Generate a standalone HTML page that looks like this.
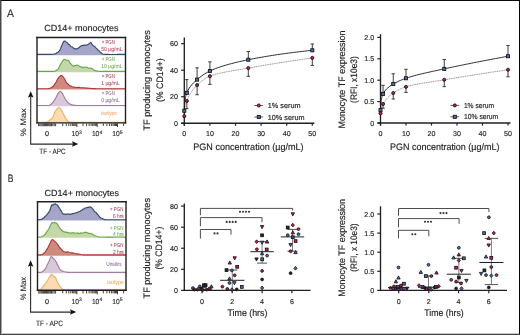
<!DOCTYPE html>
<html><head><meta charset="utf-8"><style>
html,body{margin:0;padding:0;background:#fff;overflow:hidden;width:520px;height:335px;}
svg{display:block;font-family:"Liberation Sans", sans-serif;will-change:transform;text-rendering:geometricPrecision;}
</style></head><body>
<svg width="520" height="335" viewBox="0 0 520 335">
<rect x="0" y="0" width="520" height="335" fill="#fff"/>
<text x="7.10" y="17.00" font-size="10.8" fill="#231f20" stroke="#231f20" stroke-width="0.1" textLength="6.90" lengthAdjust="spacingAndGlyphs" >A</text>
<text x="44.20" y="31.10" font-size="8.9" fill="#231f20" stroke="#231f20" stroke-width="0.16" textLength="74.40" lengthAdjust="spacingAndGlyphs" >CD14+ monocytes</text>
<path d="M37.00,54.40 L37.60,54.40 L38.37,54.41 L39.28,54.41 L40.31,54.42 L41.42,54.42 L42.59,54.43 L43.80,54.43 L45.00,54.44 L46.17,54.44 L47.29,54.43 L48.32,54.43 L49.23,54.42 L50.00,54.40 L51.83,54.35 L53.04,54.28 L53.96,54.15 L54.90,53.90 L55.90,53.52 L56.81,52.78 L57.64,52.62 L58.40,51.76 L59.06,51.23 L59.62,50.62 L60.15,49.47 L60.70,48.40 L61.09,47.26 L61.47,46.34 L61.86,45.37 L62.25,44.40 L62.63,43.52 L63.00,42.53 L64.07,41.19 L65.10,41.07 L66.04,41.91 L67.00,42.43 L67.71,43.27 L68.47,44.36 L69.30,44.61 L70.20,45.75 L71.17,46.74 L72.20,47.04 L73.37,47.96 L74.60,48.86 L75.70,48.78 L76.85,48.88 L78.00,48.35 L78.79,47.77 L79.68,46.97 L80.60,46.13 L81.50,45.79 L82.64,45.40 L83.76,45.34 L84.90,45.12 L86.10,45.15 L87.32,44.83 L88.40,44.19 L89.66,43.29 L90.70,42.47 L91.51,43.47 L92.40,44.81 L93.26,45.72 L94.24,46.27 L95.30,47.18 L96.14,48.14 L97.02,48.86 L97.92,50.08 L98.80,50.51 L99.65,51.66 L100.50,52.27 L101.35,52.99 L102.20,53.60 L102.76,54.05 L103.32,54.27 L105.70,54.40 L106.38,54.42 L107.20,54.43 L108.12,54.44 L109.15,54.45 L110.25,54.46 L111.42,54.46 L112.65,54.46 L113.90,54.46 L115.18,54.45 L116.46,54.45 L117.72,54.44 L118.96,54.43 L120.15,54.43 L121.29,54.42 L122.35,54.41 L123.31,54.41 L124.17,54.40 L124.90,54.40 L125.50,54.40 L125.50,55.20 L37.00,55.20 Z" fill="#a5a6c7" stroke="none"/>
<path d="M37.00,54.40 L37.60,54.40 L38.37,54.41 L39.28,54.41 L40.31,54.42 L41.42,54.42 L42.59,54.43 L43.80,54.43 L45.00,54.44 L46.17,54.44 L47.29,54.43 L48.32,54.43 L49.23,54.42 L50.00,54.40 L51.83,54.35 L53.04,54.28 L53.96,54.15 L54.90,53.90 L55.90,53.52 L56.81,52.78 L57.64,52.62 L58.40,51.76 L59.06,51.23 L59.62,50.62 L60.15,49.47 L60.70,48.40 L61.09,47.26 L61.47,46.34 L61.86,45.37 L62.25,44.40 L62.63,43.52 L63.00,42.53 L64.07,41.19 L65.10,41.07 L66.04,41.91 L67.00,42.43 L67.71,43.27 L68.47,44.36 L69.30,44.61 L70.20,45.75 L71.17,46.74 L72.20,47.04 L73.37,47.96 L74.60,48.86 L75.70,48.78 L76.85,48.88 L78.00,48.35 L78.79,47.77 L79.68,46.97 L80.60,46.13 L81.50,45.79 L82.64,45.40 L83.76,45.34 L84.90,45.12 L86.10,45.15 L87.32,44.83 L88.40,44.19 L89.66,43.29 L90.70,42.47 L91.51,43.47 L92.40,44.81 L93.26,45.72 L94.24,46.27 L95.30,47.18 L96.14,48.14 L97.02,48.86 L97.92,50.08 L98.80,50.51 L99.65,51.66 L100.50,52.27 L101.35,52.99 L102.20,53.60 L102.76,54.05 L103.32,54.27 L105.70,54.40 L106.38,54.42 L107.20,54.43 L108.12,54.44 L109.15,54.45 L110.25,54.46 L111.42,54.46 L112.65,54.46 L113.90,54.46 L115.18,54.45 L116.46,54.45 L117.72,54.44 L118.96,54.43 L120.15,54.43 L121.29,54.42 L122.35,54.41 L123.31,54.41 L124.17,54.40 L124.90,54.40 L125.50,54.40" fill="none" stroke="#33496e" stroke-width="1.15" stroke-linejoin="round"/>
<path d="M37.00,71.40 L37.59,71.40 L38.34,71.40 L39.23,71.41 L40.23,71.41 L41.32,71.42 L42.48,71.42 L43.68,71.43 L44.91,71.43 L46.12,71.44 L47.31,71.44 L48.45,71.44 L49.51,71.43 L50.47,71.43 L51.31,71.41 L52.00,71.40 L53.97,71.35 L54.64,71.25 L55.30,70.90 L56.13,70.40 L56.97,70.09 L57.78,69.42 L58.50,68.53 L59.10,67.37 L59.62,66.17 L60.10,65.01 L60.60,64.44 L61.12,63.44 L61.65,62.55 L62.18,61.57 L62.70,60.85 L63.78,59.64 L64.80,59.23 L66.40,60.29 L68.20,60.41 L68.82,60.92 L69.45,61.75 L70.10,63.33 L70.76,63.73 L71.45,64.62 L72.20,65.21 L73.55,66.38 L74.90,65.57 L75.99,65.46 L77.00,65.01 L78.02,65.41 L79.10,66.00 L80.39,66.92 L81.70,66.86 L82.80,67.76 L83.90,67.08 L85.17,67.20 L86.50,67.09 L87.85,67.73 L89.20,68.29 L90.51,67.97 L91.80,68.44 L92.64,68.84 L93.49,70.00 L94.40,70.42 L95.38,70.66 L96.43,70.91 L97.60,71.10 L98.15,71.22 L98.47,71.30 L99.44,71.36 L101.90,71.40 L102.56,71.41 L103.33,71.41 L104.20,71.41 L105.15,71.42 L106.18,71.42 L107.27,71.42 L108.42,71.42 L109.61,71.42 L110.84,71.42 L112.08,71.42 L113.34,71.42 L114.60,71.42 L115.85,71.42 L117.08,71.41 L118.28,71.41 L119.43,71.41 L120.54,71.41 L121.58,71.41 L122.55,71.40 L123.44,71.40 L124.24,71.40 L124.93,71.40 L125.50,71.40 L125.50,72.20 L37.00,72.20 Z" fill="#c5d7a9" stroke="none"/>
<path d="M37.00,71.40 L37.59,71.40 L38.34,71.40 L39.23,71.41 L40.23,71.41 L41.32,71.42 L42.48,71.42 L43.68,71.43 L44.91,71.43 L46.12,71.44 L47.31,71.44 L48.45,71.44 L49.51,71.43 L50.47,71.43 L51.31,71.41 L52.00,71.40 L53.97,71.35 L54.64,71.25 L55.30,70.90 L56.13,70.40 L56.97,70.09 L57.78,69.42 L58.50,68.53 L59.10,67.37 L59.62,66.17 L60.10,65.01 L60.60,64.44 L61.12,63.44 L61.65,62.55 L62.18,61.57 L62.70,60.85 L63.78,59.64 L64.80,59.23 L66.40,60.29 L68.20,60.41 L68.82,60.92 L69.45,61.75 L70.10,63.33 L70.76,63.73 L71.45,64.62 L72.20,65.21 L73.55,66.38 L74.90,65.57 L75.99,65.46 L77.00,65.01 L78.02,65.41 L79.10,66.00 L80.39,66.92 L81.70,66.86 L82.80,67.76 L83.90,67.08 L85.17,67.20 L86.50,67.09 L87.85,67.73 L89.20,68.29 L90.51,67.97 L91.80,68.44 L92.64,68.84 L93.49,70.00 L94.40,70.42 L95.38,70.66 L96.43,70.91 L97.60,71.10 L98.15,71.22 L98.47,71.30 L99.44,71.36 L101.90,71.40 L102.56,71.41 L103.33,71.41 L104.20,71.41 L105.15,71.42 L106.18,71.42 L107.27,71.42 L108.42,71.42 L109.61,71.42 L110.84,71.42 L112.08,71.42 L113.34,71.42 L114.60,71.42 L115.85,71.42 L117.08,71.41 L118.28,71.41 L119.43,71.41 L120.54,71.41 L121.58,71.41 L122.55,71.40 L123.44,71.40 L124.24,71.40 L124.93,71.40 L125.50,71.40" fill="none" stroke="#68a84b" stroke-width="1.15" stroke-linejoin="round"/>
<path d="M37.00,88.70 L37.64,88.70 L38.53,88.70 L39.58,88.71 L40.74,88.71 L41.93,88.71 L43.08,88.71 L44.13,88.71 L45.00,88.70 L46.33,88.70 L47.38,88.71 L48.29,88.66 L49.20,88.50 L50.44,88.12 L51.60,87.38 L52.70,86.80 L53.47,86.03 L54.19,84.97 L54.89,83.95 L55.60,82.89 L56.18,81.97 L56.77,80.78 L57.36,79.57 L57.94,78.61 L58.50,77.67 L59.39,76.81 L60.24,76.02 L61.10,75.32 L61.98,75.84 L62.86,76.53 L63.70,77.66 L64.28,78.51 L64.84,79.61 L65.40,80.85 L66.00,81.75 L66.65,82.72 L67.32,83.52 L68.04,84.06 L68.80,84.88 L69.60,85.42 L70.44,86.04 L71.33,86.19 L72.30,86.71 L73.32,87.13 L74.39,87.15 L75.56,87.33 L76.90,87.49 L77.92,87.26 L79.03,87.37 L80.20,87.70 L81.41,87.79 L82.62,87.71 L83.80,87.80 L84.80,87.88 L85.82,87.97 L86.83,88.07 L87.85,88.16 L88.86,88.25 L89.84,88.33 L90.80,88.40 L91.62,88.47 L92.10,88.53 L92.56,88.59 L93.31,88.63 L94.69,88.67 L97.00,88.70 L97.67,88.70 L98.42,88.71 L99.25,88.71 L100.15,88.72 L101.12,88.72 L102.15,88.72 L103.22,88.72 L104.35,88.72 L105.51,88.72 L106.70,88.72 L107.92,88.72 L109.15,88.72 L110.39,88.72 L111.64,88.72 L112.88,88.72 L114.11,88.72 L115.32,88.71 L116.51,88.71 L117.67,88.71 L118.78,88.71 L119.86,88.71 L120.88,88.71 L121.84,88.70 L122.73,88.70 L123.55,88.70 L124.29,88.70 L124.94,88.70 L125.50,88.70 L125.50,89.50 L37.00,89.50 Z" fill="#cf8a7e" stroke="none"/>
<path d="M37.00,88.70 L37.64,88.70 L38.53,88.70 L39.58,88.71 L40.74,88.71 L41.93,88.71 L43.08,88.71 L44.13,88.71 L45.00,88.70 L46.33,88.70 L47.38,88.71 L48.29,88.66 L49.20,88.50 L50.44,88.12 L51.60,87.38 L52.70,86.80 L53.47,86.03 L54.19,84.97 L54.89,83.95 L55.60,82.89 L56.18,81.97 L56.77,80.78 L57.36,79.57 L57.94,78.61 L58.50,77.67 L59.39,76.81 L60.24,76.02 L61.10,75.32 L61.98,75.84 L62.86,76.53 L63.70,77.66 L64.28,78.51 L64.84,79.61 L65.40,80.85 L66.00,81.75 L66.65,82.72 L67.32,83.52 L68.04,84.06 L68.80,84.88 L69.60,85.42 L70.44,86.04 L71.33,86.19 L72.30,86.71 L73.32,87.13 L74.39,87.15 L75.56,87.33 L76.90,87.49 L77.92,87.26 L79.03,87.37 L80.20,87.70 L81.41,87.79 L82.62,87.71 L83.80,87.80 L84.80,87.88 L85.82,87.97 L86.83,88.07 L87.85,88.16 L88.86,88.25 L89.84,88.33 L90.80,88.40 L91.62,88.47 L92.10,88.53 L92.56,88.59 L93.31,88.63 L94.69,88.67 L97.00,88.70 L97.67,88.70 L98.42,88.71 L99.25,88.71 L100.15,88.72 L101.12,88.72 L102.15,88.72 L103.22,88.72 L104.35,88.72 L105.51,88.72 L106.70,88.72 L107.92,88.72 L109.15,88.72 L110.39,88.72 L111.64,88.72 L112.88,88.72 L114.11,88.72 L115.32,88.71 L116.51,88.71 L117.67,88.71 L118.78,88.71 L119.86,88.71 L120.88,88.71 L121.84,88.70 L122.73,88.70 L123.55,88.70 L124.29,88.70 L124.94,88.70 L125.50,88.70" fill="none" stroke="#b0363d" stroke-width="1.15" stroke-linejoin="round"/>
<path d="M37.00,105.50 C38.50,105.50 43.87,105.55 46.00,105.50 C48.13,105.45 48.68,105.68 49.80,105.20 C50.92,104.72 51.73,103.77 52.70,102.60 C53.67,101.43 54.73,99.70 55.60,98.20 C56.47,96.70 57.13,94.75 57.90,93.60 C58.67,92.45 59.43,91.30 60.20,91.30 C60.97,91.30 61.73,92.45 62.50,93.60 C63.27,94.75 63.93,96.75 64.80,98.20 C65.67,99.65 66.63,101.23 67.70,102.30 C68.77,103.37 69.85,104.08 71.20,104.60 C72.55,105.12 74.33,105.25 75.80,105.40 C77.27,105.55 71.72,105.48 80.00,105.50 C88.28,105.52 117.92,105.50 125.50,105.50 L125.50,106.30 L37.00,106.30 Z" fill="#d8c8da" stroke="none"/>
<path d="M37.00,105.50 C38.50,105.50 43.87,105.55 46.00,105.50 C48.13,105.45 48.68,105.68 49.80,105.20 C50.92,104.72 51.73,103.77 52.70,102.60 C53.67,101.43 54.73,99.70 55.60,98.20 C56.47,96.70 57.13,94.75 57.90,93.60 C58.67,92.45 59.43,91.30 60.20,91.30 C60.97,91.30 61.73,92.45 62.50,93.60 C63.27,94.75 63.93,96.75 64.80,98.20 C65.67,99.65 66.63,101.23 67.70,102.30 C68.77,103.37 69.85,104.08 71.20,104.60 C72.55,105.12 74.33,105.25 75.80,105.40 C77.27,105.55 71.72,105.48 80.00,105.50 C88.28,105.52 117.92,105.50 125.50,105.50" fill="none" stroke="#9c809c" stroke-width="1.15" stroke-linejoin="round"/>
<path d="M37.00,122.30 L37.66,122.30 L38.59,122.31 L39.69,122.32 L40.88,122.33 L42.05,122.33 L43.12,122.32 L44.00,122.30 L45.45,122.27 L46.51,122.19 L47.50,121.90 L48.53,121.14 L49.50,120.23 L50.40,119.59 L51.21,119.11 L51.96,118.43 L52.70,117.49 L53.07,116.54 L53.41,115.80 L53.76,114.95 L54.12,113.86 L54.53,112.79 L55.00,111.64 L55.68,110.93 L56.47,109.88 L57.30,108.67 L58.10,108.14 L58.80,107.51 L59.73,107.75 L60.52,108.75 L61.30,109.86 L61.79,110.90 L62.27,111.87 L62.75,112.69 L63.23,113.69 L63.70,114.54 L64.28,115.61 L64.86,116.90 L65.43,117.83 L66.00,118.52 L66.79,119.82 L67.58,120.80 L68.30,121.60 L70.00,122.30 L70.55,122.31 L71.15,122.31 L71.79,122.32 L72.49,122.32 L73.23,122.33 L74.02,122.33 L74.85,122.33 L75.72,122.34 L76.62,122.34 L77.57,122.34 L78.54,122.34 L79.55,122.35 L80.59,122.35 L81.66,122.35 L82.76,122.35 L83.88,122.35 L85.02,122.35 L86.18,122.35 L87.36,122.35 L88.56,122.35 L89.77,122.35 L90.99,122.35 L92.22,122.35 L93.47,122.35 L94.72,122.35 L95.97,122.35 L97.23,122.34 L98.48,122.34 L99.74,122.34 L100.99,122.34 L102.24,122.34 L103.48,122.34 L104.71,122.33 L105.93,122.33 L107.14,122.33 L108.33,122.33 L109.51,122.33 L110.66,122.32 L111.80,122.32 L112.91,122.32 L114.00,122.32 L115.06,122.31 L116.09,122.31 L117.09,122.31 L118.06,122.31 L118.99,122.31 L119.89,122.31 L120.75,122.30 L121.56,122.30 L122.34,122.30 L123.07,122.30 L123.75,122.30 L124.38,122.30 L124.97,122.30 L125.50,122.30 L125.50,123.10 L37.00,123.10 Z" fill="#fadcb4" stroke="none"/>
<path d="M37.00,122.30 L37.66,122.30 L38.59,122.31 L39.69,122.32 L40.88,122.33 L42.05,122.33 L43.12,122.32 L44.00,122.30 L45.45,122.27 L46.51,122.19 L47.50,121.90 L48.53,121.14 L49.50,120.23 L50.40,119.59 L51.21,119.11 L51.96,118.43 L52.70,117.49 L53.07,116.54 L53.41,115.80 L53.76,114.95 L54.12,113.86 L54.53,112.79 L55.00,111.64 L55.68,110.93 L56.47,109.88 L57.30,108.67 L58.10,108.14 L58.80,107.51 L59.73,107.75 L60.52,108.75 L61.30,109.86 L61.79,110.90 L62.27,111.87 L62.75,112.69 L63.23,113.69 L63.70,114.54 L64.28,115.61 L64.86,116.90 L65.43,117.83 L66.00,118.52 L66.79,119.82 L67.58,120.80 L68.30,121.60 L70.00,122.30 L70.55,122.31 L71.15,122.31 L71.79,122.32 L72.49,122.32 L73.23,122.33 L74.02,122.33 L74.85,122.33 L75.72,122.34 L76.62,122.34 L77.57,122.34 L78.54,122.34 L79.55,122.35 L80.59,122.35 L81.66,122.35 L82.76,122.35 L83.88,122.35 L85.02,122.35 L86.18,122.35 L87.36,122.35 L88.56,122.35 L89.77,122.35 L90.99,122.35 L92.22,122.35 L93.47,122.35 L94.72,122.35 L95.97,122.35 L97.23,122.34 L98.48,122.34 L99.74,122.34 L100.99,122.34 L102.24,122.34 L103.48,122.34 L104.71,122.33 L105.93,122.33 L107.14,122.33 L108.33,122.33 L109.51,122.33 L110.66,122.32 L111.80,122.32 L112.91,122.32 L114.00,122.32 L115.06,122.31 L116.09,122.31 L117.09,122.31 L118.06,122.31 L118.99,122.31 L119.89,122.31 L120.75,122.30 L121.56,122.30 L122.34,122.30 L123.07,122.30 L123.75,122.30 L124.38,122.30 L124.97,122.30 L125.50,122.30" fill="none" stroke="#eeb268" stroke-width="1.15" stroke-linejoin="round"/>
<text x="101.80" y="44.30" font-size="5.8" fill="#ac3c55" stroke="#ac3c55" stroke-width="0.04" textLength="13.00" lengthAdjust="spacingAndGlyphs" >+ PGN</text>
<text x="101.20" y="50.80" font-size="5.8" fill="#ac3c55" stroke="#ac3c55" stroke-width="0.04" textLength="21.30" lengthAdjust="spacingAndGlyphs" >50 µg/mL</text>
<text x="101.80" y="61.00" font-size="5.8" fill="#6ea74e" stroke="#6ea74e" stroke-width="0.04" textLength="13.00" lengthAdjust="spacingAndGlyphs" >+ PGN</text>
<text x="101.20" y="67.50" font-size="5.8" fill="#6ea74e" stroke="#6ea74e" stroke-width="0.04" textLength="21.30" lengthAdjust="spacingAndGlyphs" >10 µg/mL</text>
<text x="101.80" y="78.00" font-size="5.8" fill="#ac3c55" stroke="#ac3c55" stroke-width="0.04" textLength="13.00" lengthAdjust="spacingAndGlyphs" >+ PGN</text>
<text x="101.20" y="84.50" font-size="5.8" fill="#ac3c55" stroke="#ac3c55" stroke-width="0.04" textLength="18.50" lengthAdjust="spacingAndGlyphs" >1 µg/mL</text>
<text x="101.80" y="95.00" font-size="5.8" fill="#86658c" stroke="#86658c" stroke-width="0.04" textLength="13.00" lengthAdjust="spacingAndGlyphs" >+ PGN</text>
<text x="101.20" y="101.50" font-size="5.8" fill="#86658c" stroke="#86658c" stroke-width="0.04" textLength="18.50" lengthAdjust="spacingAndGlyphs" >0 µg/mL</text>
<text x="101.00" y="115.20" font-size="5.9" fill="#eba55c" stroke="#eba55c" stroke-width="0.04" textLength="16.20" lengthAdjust="spacingAndGlyphs" >isotype</text>
<line x1="37.00" y1="37.50" x2="125.50" y2="37.50" stroke="#231f20" stroke-width="1.4" stroke-linecap="square"/>
<line x1="37.00" y1="37.50" x2="37.00" y2="122.90" stroke="#231f20" stroke-width="1.4" stroke-linecap="square"/>
<line x1="125.50" y1="37.50" x2="125.50" y2="122.90" stroke="#231f20" stroke-width="1.4" stroke-linecap="square"/>
<line x1="37.00" y1="122.90" x2="125.50" y2="122.90" stroke="#231f20" stroke-width="1.4" stroke-linecap="square"/>
<line x1="38.50" y1="123.40" x2="38.50" y2="126.20" stroke="#111" stroke-width="0.8" />
<line x1="39.80" y1="123.40" x2="39.80" y2="126.20" stroke="#111" stroke-width="0.8" />
<line x1="41.00" y1="123.40" x2="41.00" y2="126.20" stroke="#111" stroke-width="0.8" />
<line x1="42.20" y1="123.40" x2="42.20" y2="126.20" stroke="#111" stroke-width="0.8" />
<line x1="43.30" y1="123.40" x2="43.30" y2="126.20" stroke="#111" stroke-width="0.8" />
<line x1="44.40" y1="123.40" x2="44.40" y2="126.20" stroke="#111" stroke-width="0.8" />
<line x1="45.40" y1="123.40" x2="45.40" y2="126.20" stroke="#111" stroke-width="0.8" />
<line x1="46.40" y1="123.40" x2="46.40" y2="126.20" stroke="#111" stroke-width="0.8" />
<line x1="47.30" y1="123.40" x2="47.30" y2="126.20" stroke="#111" stroke-width="0.8" />
<line x1="48.20" y1="123.40" x2="48.20" y2="126.20" stroke="#111" stroke-width="0.8" />
<line x1="49.20" y1="123.40" x2="49.20" y2="126.20" stroke="#111" stroke-width="0.8" />
<line x1="50.30" y1="123.40" x2="50.30" y2="126.20" stroke="#111" stroke-width="0.8" />
<line x1="51.50" y1="123.40" x2="51.50" y2="126.20" stroke="#111" stroke-width="0.8" />
<line x1="52.80" y1="123.40" x2="52.80" y2="126.20" stroke="#111" stroke-width="0.8" />
<line x1="54.20" y1="123.40" x2="54.20" y2="126.20" stroke="#111" stroke-width="0.8" />
<line x1="55.60" y1="123.40" x2="55.60" y2="126.20" stroke="#111" stroke-width="0.8" />
<line x1="62.71" y1="123.40" x2="62.71" y2="126.00" stroke="#111" stroke-width="0.8" />
<line x1="66.29" y1="123.40" x2="66.29" y2="126.00" stroke="#111" stroke-width="0.8" />
<line x1="68.82" y1="123.40" x2="68.82" y2="126.00" stroke="#111" stroke-width="0.8" />
<line x1="70.79" y1="123.40" x2="70.79" y2="126.00" stroke="#111" stroke-width="0.8" />
<line x1="72.40" y1="123.40" x2="72.40" y2="126.00" stroke="#111" stroke-width="0.8" />
<line x1="73.76" y1="123.40" x2="73.76" y2="126.00" stroke="#111" stroke-width="0.8" />
<line x1="74.93" y1="123.40" x2="74.93" y2="126.00" stroke="#111" stroke-width="0.8" />
<line x1="75.97" y1="123.40" x2="75.97" y2="126.00" stroke="#111" stroke-width="0.8" />
<line x1="83.01" y1="123.40" x2="83.01" y2="126.00" stroke="#111" stroke-width="0.8" />
<line x1="86.59" y1="123.40" x2="86.59" y2="126.00" stroke="#111" stroke-width="0.8" />
<line x1="89.12" y1="123.40" x2="89.12" y2="126.00" stroke="#111" stroke-width="0.8" />
<line x1="91.09" y1="123.40" x2="91.09" y2="126.00" stroke="#111" stroke-width="0.8" />
<line x1="92.70" y1="123.40" x2="92.70" y2="126.00" stroke="#111" stroke-width="0.8" />
<line x1="94.06" y1="123.40" x2="94.06" y2="126.00" stroke="#111" stroke-width="0.8" />
<line x1="95.23" y1="123.40" x2="95.23" y2="126.00" stroke="#111" stroke-width="0.8" />
<line x1="96.27" y1="123.40" x2="96.27" y2="126.00" stroke="#111" stroke-width="0.8" />
<line x1="103.31" y1="123.40" x2="103.31" y2="126.00" stroke="#111" stroke-width="0.8" />
<line x1="106.89" y1="123.40" x2="106.89" y2="126.00" stroke="#111" stroke-width="0.8" />
<line x1="109.42" y1="123.40" x2="109.42" y2="126.00" stroke="#111" stroke-width="0.8" />
<line x1="111.39" y1="123.40" x2="111.39" y2="126.00" stroke="#111" stroke-width="0.8" />
<line x1="113.00" y1="123.40" x2="113.00" y2="126.00" stroke="#111" stroke-width="0.8" />
<line x1="114.36" y1="123.40" x2="114.36" y2="126.00" stroke="#111" stroke-width="0.8" />
<line x1="115.53" y1="123.40" x2="115.53" y2="126.00" stroke="#111" stroke-width="0.8" />
<line x1="116.57" y1="123.40" x2="116.57" y2="126.00" stroke="#111" stroke-width="0.8" />
<line x1="123.61" y1="123.40" x2="123.61" y2="126.00" stroke="#111" stroke-width="0.8" />
<line x1="76.90" y1="123.40" x2="76.90" y2="127.00" stroke="#111" stroke-width="0.8" />
<line x1="97.20" y1="123.40" x2="97.20" y2="127.00" stroke="#111" stroke-width="0.8" />
<line x1="117.50" y1="123.40" x2="117.50" y2="127.00" stroke="#111" stroke-width="0.8" />
<text x="47.00" y="136.40" font-size="7.2" fill="#231f20" stroke="#231f20" stroke-width="0.16" text-anchor="middle" >0</text>
<text x="71.60" y="136.40" font-size="7.3" fill="#231f20" stroke="#231f20" stroke-width="0.14" textLength="7.4" lengthAdjust="spacingAndGlyphs">10</text>
<text x="79.10" y="133.80" font-size="5.0" fill="#231f20" stroke="#231f20" stroke-width="0.12">3</text>
<text x="91.90" y="136.40" font-size="7.3" fill="#231f20" stroke="#231f20" stroke-width="0.14" textLength="7.4" lengthAdjust="spacingAndGlyphs">10</text>
<text x="99.40" y="133.80" font-size="5.0" fill="#231f20" stroke="#231f20" stroke-width="0.12">4</text>
<text x="112.20" y="136.40" font-size="7.3" fill="#231f20" stroke="#231f20" stroke-width="0.14" textLength="7.4" lengthAdjust="spacingAndGlyphs">10</text>
<text x="119.70" y="133.80" font-size="5.0" fill="#231f20" stroke="#231f20" stroke-width="0.12">5</text>
<path d="M30.70,96.20 L30.70,144.10 L73.30,144.10" fill="none" stroke="#2a2a2a" stroke-width="1.1"/>
<path d="M30.70,91.20 L27.95,97.60 L30.70,96.40 L33.45,97.60 Z" fill="#111"/>
<path d="M78.30,144.10 L71.90,141.35 L73.10,144.10 L71.90,146.85 Z" fill="#111"/>
<text x="25.60" y="136.40" font-size="8.0" fill="#231f20" stroke="#231f20" stroke-width="0.06" textLength="28.20" lengthAdjust="spacingAndGlyphs" transform="rotate(-90 25.60 136.40)" >% Max</text>
<text x="39.30" y="154.40" font-size="7.7" fill="#231f20" stroke="#231f20" stroke-width="0.1" textLength="26.30" lengthAdjust="spacingAndGlyphs" >TF - APC</text>
<text x="7.80" y="181.80" font-size="10.8" fill="#231f20" stroke="#231f20" stroke-width="0.1" textLength="5.70" lengthAdjust="spacingAndGlyphs" >B</text>
<text x="44.60" y="195.70" font-size="8.9" fill="#231f20" stroke="#231f20" stroke-width="0.16" textLength="74.40" lengthAdjust="spacingAndGlyphs" >CD14+ monocytes</text>
<path d="M37.50,219.70 L38.80,219.70 L39.77,219.61 L40.98,219.44 L42.20,219.00 L43.07,218.06 L43.94,217.84 L44.82,216.67 L45.70,215.98 L46.44,215.41 L47.21,214.23 L47.96,213.34 L48.64,212.15 L49.20,211.51 L49.79,210.48 L50.14,209.47 L50.50,208.44 L50.96,206.90 L51.43,205.49 L51.90,204.83 L53.30,205.13 L54.31,204.01 L55.40,203.86 L56.46,204.82 L57.50,205.12 L58.17,206.37 L58.83,207.56 L59.50,207.98 L60.02,209.08 L60.54,210.29 L61.07,210.58 L61.60,211.72 L62.23,212.90 L62.85,213.72 L63.70,214.17 L64.58,214.15 L65.62,214.37 L66.72,214.18 L67.80,214.18 L68.84,214.03 L69.89,214.33 L70.95,214.17 L72.00,213.65 L73.05,213.67 L74.11,213.21 L75.16,213.08 L76.20,212.68 L77.25,212.54 L78.29,211.87 L79.32,211.46 L80.30,211.18 L81.20,210.41 L82.05,210.26 L82.90,209.14 L83.80,209.09 L84.80,208.35 L85.85,207.88 L86.90,207.65 L87.90,207.32 L89.11,207.13 L90.26,206.93 L91.40,207.47 L92.25,208.64 L93.10,209.41 L93.95,210.57 L94.80,211.76 L95.49,212.30 L96.19,212.58 L96.90,213.57 L97.60,214.56 L98.30,214.99 L99.18,216.44 L100.06,217.26 L100.93,217.95 L101.80,218.28 L102.96,218.91 L104.11,219.32 L105.20,219.60 L105.69,219.73 L108.00,219.70 L108.65,219.70 L109.43,219.70 L110.33,219.71 L111.32,219.71 L112.40,219.71 L113.54,219.71 L114.73,219.71 L115.95,219.71 L117.17,219.71 L118.40,219.71 L119.60,219.70 L120.77,219.70 L121.88,219.70 L122.92,219.70 L123.87,219.70 L124.71,219.70 L125.42,219.70 L126.00,219.70 L126.00,220.50 L37.50,220.50 Z" fill="#a5a6c7" stroke="none"/>
<path d="M37.50,219.70 L38.80,219.70 L39.77,219.61 L40.98,219.44 L42.20,219.00 L43.07,218.06 L43.94,217.84 L44.82,216.67 L45.70,215.98 L46.44,215.41 L47.21,214.23 L47.96,213.34 L48.64,212.15 L49.20,211.51 L49.79,210.48 L50.14,209.47 L50.50,208.44 L50.96,206.90 L51.43,205.49 L51.90,204.83 L53.30,205.13 L54.31,204.01 L55.40,203.86 L56.46,204.82 L57.50,205.12 L58.17,206.37 L58.83,207.56 L59.50,207.98 L60.02,209.08 L60.54,210.29 L61.07,210.58 L61.60,211.72 L62.23,212.90 L62.85,213.72 L63.70,214.17 L64.58,214.15 L65.62,214.37 L66.72,214.18 L67.80,214.18 L68.84,214.03 L69.89,214.33 L70.95,214.17 L72.00,213.65 L73.05,213.67 L74.11,213.21 L75.16,213.08 L76.20,212.68 L77.25,212.54 L78.29,211.87 L79.32,211.46 L80.30,211.18 L81.20,210.41 L82.05,210.26 L82.90,209.14 L83.80,209.09 L84.80,208.35 L85.85,207.88 L86.90,207.65 L87.90,207.32 L89.11,207.13 L90.26,206.93 L91.40,207.47 L92.25,208.64 L93.10,209.41 L93.95,210.57 L94.80,211.76 L95.49,212.30 L96.19,212.58 L96.90,213.57 L97.60,214.56 L98.30,214.99 L99.18,216.44 L100.06,217.26 L100.93,217.95 L101.80,218.28 L102.96,218.91 L104.11,219.32 L105.20,219.60 L105.69,219.73 L108.00,219.70 L108.65,219.70 L109.43,219.70 L110.33,219.71 L111.32,219.71 L112.40,219.71 L113.54,219.71 L114.73,219.71 L115.95,219.71 L117.17,219.71 L118.40,219.71 L119.60,219.70 L120.77,219.70 L121.88,219.70 L122.92,219.70 L123.87,219.70 L124.71,219.70 L125.42,219.70 L126.00,219.70" fill="none" stroke="#33496e" stroke-width="1.15" stroke-linejoin="round"/>
<path d="M37.50,237.00 L39.00,237.00 L40.12,237.01 L41.50,236.70 L42.30,236.28 L43.19,236.03 L44.10,235.41 L45.00,234.50 L45.72,233.40 L46.47,232.20 L47.21,231.00 L47.90,230.30 L48.50,229.32 L49.12,228.29 L49.63,227.15 L50.08,226.17 L50.50,225.23 L51.01,224.28 L51.46,223.28 L51.90,222.60 L53.30,222.84 L54.31,222.43 L55.40,222.88 L56.46,223.12 L57.50,224.28 L57.99,224.94 L58.46,226.59 L58.95,226.84 L59.50,227.86 L60.32,228.69 L61.23,229.76 L62.30,230.71 L63.25,231.63 L64.32,231.63 L65.42,232.50 L66.50,232.02 L67.50,232.47 L68.46,232.59 L69.47,232.95 L70.60,233.15 L71.65,232.72 L72.80,232.88 L74.00,232.81 L75.15,233.29 L76.20,233.21 L77.33,232.84 L78.34,233.36 L79.30,233.57 L80.30,232.93 L81.35,233.07 L82.40,233.04 L83.45,232.92 L84.50,232.47 L85.53,232.12 L86.55,232.68 L87.57,232.76 L88.60,233.40 L89.65,233.34 L90.70,233.56 L91.75,234.18 L92.80,234.18 L93.83,235.12 L94.85,235.78 L95.87,236.27 L96.90,236.30 L97.46,236.57 L97.70,236.76 L98.59,236.90 L101.10,237.00 L101.76,237.01 L102.53,237.02 L103.39,237.03 L104.34,237.04 L105.36,237.05 L106.45,237.05 L107.60,237.05 L108.79,237.05 L110.02,237.05 L111.27,237.05 L112.54,237.05 L113.81,237.04 L115.08,237.04 L116.34,237.04 L117.58,237.03 L118.78,237.03 L119.94,237.02 L121.04,237.02 L122.08,237.01 L123.05,237.01 L123.94,237.00 L124.73,237.00 L125.42,237.00 L126.00,237.00 L126.00,237.80 L37.50,237.80 Z" fill="#c5d7a9" stroke="none"/>
<path d="M37.50,237.00 L39.00,237.00 L40.12,237.01 L41.50,236.70 L42.30,236.28 L43.19,236.03 L44.10,235.41 L45.00,234.50 L45.72,233.40 L46.47,232.20 L47.21,231.00 L47.90,230.30 L48.50,229.32 L49.12,228.29 L49.63,227.15 L50.08,226.17 L50.50,225.23 L51.01,224.28 L51.46,223.28 L51.90,222.60 L53.30,222.84 L54.31,222.43 L55.40,222.88 L56.46,223.12 L57.50,224.28 L57.99,224.94 L58.46,226.59 L58.95,226.84 L59.50,227.86 L60.32,228.69 L61.23,229.76 L62.30,230.71 L63.25,231.63 L64.32,231.63 L65.42,232.50 L66.50,232.02 L67.50,232.47 L68.46,232.59 L69.47,232.95 L70.60,233.15 L71.65,232.72 L72.80,232.88 L74.00,232.81 L75.15,233.29 L76.20,233.21 L77.33,232.84 L78.34,233.36 L79.30,233.57 L80.30,232.93 L81.35,233.07 L82.40,233.04 L83.45,232.92 L84.50,232.47 L85.53,232.12 L86.55,232.68 L87.57,232.76 L88.60,233.40 L89.65,233.34 L90.70,233.56 L91.75,234.18 L92.80,234.18 L93.83,235.12 L94.85,235.78 L95.87,236.27 L96.90,236.30 L97.46,236.57 L97.70,236.76 L98.59,236.90 L101.10,237.00 L101.76,237.01 L102.53,237.02 L103.39,237.03 L104.34,237.04 L105.36,237.05 L106.45,237.05 L107.60,237.05 L108.79,237.05 L110.02,237.05 L111.27,237.05 L112.54,237.05 L113.81,237.04 L115.08,237.04 L116.34,237.04 L117.58,237.03 L118.78,237.03 L119.94,237.02 L121.04,237.02 L122.08,237.01 L123.05,237.01 L123.94,237.00 L124.73,237.00 L125.42,237.00 L126.00,237.00" fill="none" stroke="#68a84b" stroke-width="1.15" stroke-linejoin="round"/>
<path d="M37.50,254.90 L39.00,254.90 L40.31,254.93 L41.80,254.70 L42.76,254.21 L43.74,253.27 L44.70,252.60 L45.42,251.73 L46.14,250.52 L46.84,249.43 L47.50,248.36 L47.99,247.57 L48.45,246.56 L48.90,245.54 L49.34,244.74 L49.80,243.73 L50.28,243.10 L50.76,242.07 L51.24,240.59 L51.72,240.10 L52.20,239.54 L53.32,239.99 L54.50,241.08 L55.16,241.62 L55.86,242.39 L56.58,243.00 L57.30,244.00 L57.86,244.82 L58.42,245.47 L58.99,246.57 L59.58,247.36 L60.20,248.24 L61.03,248.80 L61.91,249.93 L62.81,250.99 L63.70,251.47 L64.87,251.99 L66.04,252.14 L67.20,251.84 L68.25,252.05 L69.29,252.55 L70.60,252.80 L71.61,252.92 L72.75,252.93 L73.96,253.22 L75.20,253.53 L76.40,253.70 L77.56,253.92 L78.72,254.15 L79.89,254.36 L81.05,254.55 L82.20,254.70 L82.83,254.79 L82.93,254.85 L83.29,254.87 L84.69,254.89 L87.90,254.90 L88.51,254.90 L89.19,254.90 L89.93,254.91 L90.73,254.91 L91.59,254.91 L92.50,254.91 L93.46,254.91 L94.46,254.91 L95.50,254.91 L96.58,254.91 L97.70,254.91 L98.84,254.91 L100.00,254.91 L101.19,254.91 L102.39,254.91 L103.61,254.91 L104.84,254.91 L106.07,254.91 L107.31,254.91 L108.54,254.91 L109.77,254.91 L110.98,254.91 L112.19,254.91 L113.37,254.91 L114.54,254.91 L115.68,254.91 L116.79,254.91 L117.87,254.91 L118.91,254.90 L119.91,254.90 L120.87,254.90 L121.78,254.90 L122.63,254.90 L123.43,254.90 L124.17,254.90 L124.85,254.90 L125.46,254.90 L126.00,254.90 L126.00,255.70 L37.50,255.70 Z" fill="#cf8a7e" stroke="none"/>
<path d="M37.50,254.90 L39.00,254.90 L40.31,254.93 L41.80,254.70 L42.76,254.21 L43.74,253.27 L44.70,252.60 L45.42,251.73 L46.14,250.52 L46.84,249.43 L47.50,248.36 L47.99,247.57 L48.45,246.56 L48.90,245.54 L49.34,244.74 L49.80,243.73 L50.28,243.10 L50.76,242.07 L51.24,240.59 L51.72,240.10 L52.20,239.54 L53.32,239.99 L54.50,241.08 L55.16,241.62 L55.86,242.39 L56.58,243.00 L57.30,244.00 L57.86,244.82 L58.42,245.47 L58.99,246.57 L59.58,247.36 L60.20,248.24 L61.03,248.80 L61.91,249.93 L62.81,250.99 L63.70,251.47 L64.87,251.99 L66.04,252.14 L67.20,251.84 L68.25,252.05 L69.29,252.55 L70.60,252.80 L71.61,252.92 L72.75,252.93 L73.96,253.22 L75.20,253.53 L76.40,253.70 L77.56,253.92 L78.72,254.15 L79.89,254.36 L81.05,254.55 L82.20,254.70 L82.83,254.79 L82.93,254.85 L83.29,254.87 L84.69,254.89 L87.90,254.90 L88.51,254.90 L89.19,254.90 L89.93,254.91 L90.73,254.91 L91.59,254.91 L92.50,254.91 L93.46,254.91 L94.46,254.91 L95.50,254.91 L96.58,254.91 L97.70,254.91 L98.84,254.91 L100.00,254.91 L101.19,254.91 L102.39,254.91 L103.61,254.91 L104.84,254.91 L106.07,254.91 L107.31,254.91 L108.54,254.91 L109.77,254.91 L110.98,254.91 L112.19,254.91 L113.37,254.91 L114.54,254.91 L115.68,254.91 L116.79,254.91 L117.87,254.91 L118.91,254.90 L119.91,254.90 L120.87,254.90 L121.78,254.90 L122.63,254.90 L123.43,254.90 L124.17,254.90 L124.85,254.90 L125.46,254.90 L126.00,254.90" fill="none" stroke="#b0363d" stroke-width="1.15" stroke-linejoin="round"/>
<path d="M37.50,272.40 L39.00,272.30 L40.31,272.35 L41.80,272.10 L42.76,271.54 L43.74,270.80 L44.70,269.46 L45.28,268.76 L45.86,267.76 L46.44,266.57 L46.99,265.36 L47.50,264.31 L47.97,263.50 L48.41,262.36 L48.82,261.39 L49.22,260.68 L49.60,259.94 L50.19,258.26 L50.73,257.17 L51.30,256.59 L52.26,257.12 L53.30,258.47 L54.04,259.05 L54.82,260.01 L55.60,260.96 L56.06,261.71 L56.52,262.51 L56.98,263.56 L57.44,264.63 L57.90,265.48 L58.45,266.59 L58.98,267.75 L59.54,268.75 L60.20,269.65 L61.24,270.47 L62.41,271.13 L63.70,271.50 L64.79,271.77 L65.99,271.96 L67.19,272.09 L68.30,272.20 L67.74,272.31 L67.07,272.37 L72.00,272.40 L72.56,272.40 L73.17,272.40 L73.83,272.40 L74.54,272.41 L75.29,272.41 L76.09,272.41 L76.93,272.41 L77.80,272.41 L78.71,272.41 L79.66,272.41 L80.64,272.41 L81.66,272.41 L82.70,272.41 L83.77,272.41 L84.86,272.41 L85.98,272.41 L87.12,272.41 L88.27,272.41 L89.45,272.41 L90.64,272.41 L91.84,272.41 L93.06,272.41 L94.28,272.41 L95.51,272.41 L96.75,272.41 L97.99,272.41 L99.23,272.41 L100.47,272.41 L101.71,272.41 L102.94,272.41 L104.17,272.41 L105.39,272.41 L106.60,272.41 L107.79,272.41 L108.97,272.41 L110.14,272.41 L111.28,272.41 L112.41,272.41 L113.51,272.41 L114.59,272.40 L115.64,272.40 L116.66,272.40 L117.66,272.40 L118.62,272.40 L119.54,272.40 L120.43,272.40 L121.28,272.40 L122.09,272.40 L122.86,272.40 L123.59,272.40 L124.26,272.40 L124.89,272.40 L125.47,272.40 L126.00,272.40 L126.00,273.20 L37.50,273.20 Z" fill="#d8c8da" stroke="none"/>
<path d="M37.50,272.40 L39.00,272.30 L40.31,272.35 L41.80,272.10 L42.76,271.54 L43.74,270.80 L44.70,269.46 L45.28,268.76 L45.86,267.76 L46.44,266.57 L46.99,265.36 L47.50,264.31 L47.97,263.50 L48.41,262.36 L48.82,261.39 L49.22,260.68 L49.60,259.94 L50.19,258.26 L50.73,257.17 L51.30,256.59 L52.26,257.12 L53.30,258.47 L54.04,259.05 L54.82,260.01 L55.60,260.96 L56.06,261.71 L56.52,262.51 L56.98,263.56 L57.44,264.63 L57.90,265.48 L58.45,266.59 L58.98,267.75 L59.54,268.75 L60.20,269.65 L61.24,270.47 L62.41,271.13 L63.70,271.50 L64.79,271.77 L65.99,271.96 L67.19,272.09 L68.30,272.20 L67.74,272.31 L67.07,272.37 L72.00,272.40 L72.56,272.40 L73.17,272.40 L73.83,272.40 L74.54,272.41 L75.29,272.41 L76.09,272.41 L76.93,272.41 L77.80,272.41 L78.71,272.41 L79.66,272.41 L80.64,272.41 L81.66,272.41 L82.70,272.41 L83.77,272.41 L84.86,272.41 L85.98,272.41 L87.12,272.41 L88.27,272.41 L89.45,272.41 L90.64,272.41 L91.84,272.41 L93.06,272.41 L94.28,272.41 L95.51,272.41 L96.75,272.41 L97.99,272.41 L99.23,272.41 L100.47,272.41 L101.71,272.41 L102.94,272.41 L104.17,272.41 L105.39,272.41 L106.60,272.41 L107.79,272.41 L108.97,272.41 L110.14,272.41 L111.28,272.41 L112.41,272.41 L113.51,272.41 L114.59,272.40 L115.64,272.40 L116.66,272.40 L117.66,272.40 L118.62,272.40 L119.54,272.40 L120.43,272.40 L121.28,272.40 L122.09,272.40 L122.86,272.40 L123.59,272.40 L124.26,272.40 L124.89,272.40 L125.47,272.40 L126.00,272.40" fill="none" stroke="#9c809c" stroke-width="1.15" stroke-linejoin="round"/>
<path d="M37.50,289.80 L38.50,289.70 L39.43,289.81 L40.60,289.50 L41.27,288.87 L42.00,287.86 L42.76,286.80 L43.50,285.99 L44.23,285.14 L44.95,284.04 L45.67,283.06 L46.40,281.81 L46.99,281.07 L47.59,280.27 L48.18,279.24 L48.76,278.24 L49.30,277.14 L50.13,276.12 L50.90,274.94 L51.60,274.07 L52.46,274.99 L53.30,276.01 L54.34,276.43 L55.40,277.23 L55.78,277.88 L56.15,279.06 L56.51,280.12 L56.89,280.99 L57.30,281.93 L57.86,282.91 L58.44,283.93 L59.06,285.16 L59.70,286.04 L60.40,286.74 L61.16,287.80 L61.88,288.56 L62.50,289.20 L64.00,289.80 L64.54,289.80 L65.12,289.81 L65.74,289.81 L66.41,289.82 L67.12,289.82 L67.87,289.82 L68.66,289.83 L69.49,289.83 L70.35,289.83 L71.24,289.83 L72.17,289.84 L73.13,289.84 L74.12,289.84 L75.13,289.84 L76.17,289.84 L77.23,289.84 L78.32,289.84 L79.43,289.84 L80.56,289.84 L81.71,289.84 L82.87,289.84 L84.05,289.84 L85.24,289.84 L86.45,289.84 L87.66,289.84 L88.89,289.84 L90.12,289.84 L91.36,289.84 L92.60,289.84 L93.85,289.84 L95.09,289.84 L96.34,289.84 L97.59,289.83 L98.83,289.83 L100.06,289.83 L101.29,289.83 L102.52,289.83 L103.73,289.83 L104.93,289.83 L106.12,289.82 L107.30,289.82 L108.46,289.82 L109.60,289.82 L110.72,289.82 L111.83,289.82 L112.91,289.81 L113.97,289.81 L115.00,289.81 L116.01,289.81 L116.99,289.81 L117.94,289.81 L118.86,289.81 L119.74,289.81 L120.60,289.80 L121.41,289.80 L122.19,289.80 L122.93,289.80 L123.63,289.80 L124.29,289.80 L124.91,289.80 L125.48,289.80 L126.00,289.80 L126.00,290.60 L37.50,290.60 Z" fill="#fadcb4" stroke="none"/>
<path d="M37.50,289.80 L38.50,289.70 L39.43,289.81 L40.60,289.50 L41.27,288.87 L42.00,287.86 L42.76,286.80 L43.50,285.99 L44.23,285.14 L44.95,284.04 L45.67,283.06 L46.40,281.81 L46.99,281.07 L47.59,280.27 L48.18,279.24 L48.76,278.24 L49.30,277.14 L50.13,276.12 L50.90,274.94 L51.60,274.07 L52.46,274.99 L53.30,276.01 L54.34,276.43 L55.40,277.23 L55.78,277.88 L56.15,279.06 L56.51,280.12 L56.89,280.99 L57.30,281.93 L57.86,282.91 L58.44,283.93 L59.06,285.16 L59.70,286.04 L60.40,286.74 L61.16,287.80 L61.88,288.56 L62.50,289.20 L64.00,289.80 L64.54,289.80 L65.12,289.81 L65.74,289.81 L66.41,289.82 L67.12,289.82 L67.87,289.82 L68.66,289.83 L69.49,289.83 L70.35,289.83 L71.24,289.83 L72.17,289.84 L73.13,289.84 L74.12,289.84 L75.13,289.84 L76.17,289.84 L77.23,289.84 L78.32,289.84 L79.43,289.84 L80.56,289.84 L81.71,289.84 L82.87,289.84 L84.05,289.84 L85.24,289.84 L86.45,289.84 L87.66,289.84 L88.89,289.84 L90.12,289.84 L91.36,289.84 L92.60,289.84 L93.85,289.84 L95.09,289.84 L96.34,289.84 L97.59,289.83 L98.83,289.83 L100.06,289.83 L101.29,289.83 L102.52,289.83 L103.73,289.83 L104.93,289.83 L106.12,289.82 L107.30,289.82 L108.46,289.82 L109.60,289.82 L110.72,289.82 L111.83,289.82 L112.91,289.81 L113.97,289.81 L115.00,289.81 L116.01,289.81 L116.99,289.81 L117.94,289.81 L118.86,289.81 L119.74,289.81 L120.60,289.80 L121.41,289.80 L122.19,289.80 L122.93,289.80 L123.63,289.80 L124.29,289.80 L124.91,289.80 L125.48,289.80 L126.00,289.80" fill="none" stroke="#eeb268" stroke-width="1.15" stroke-linejoin="round"/>
<text x="110.00" y="211.30" font-size="5.8" fill="#ac3c55" stroke="#ac3c55" stroke-width="0.04" textLength="13.50" lengthAdjust="spacingAndGlyphs" >+ PGN</text>
<text x="113.00" y="218.00" font-size="5.8" fill="#ac3c55" stroke="#ac3c55" stroke-width="0.04" textLength="10.80" lengthAdjust="spacingAndGlyphs" >6 hrs</text>
<text x="110.00" y="229.60" font-size="5.8" fill="#6ea74e" stroke="#6ea74e" stroke-width="0.04" textLength="13.50" lengthAdjust="spacingAndGlyphs" >+ PGN</text>
<text x="113.00" y="235.80" font-size="5.8" fill="#6ea74e" stroke="#6ea74e" stroke-width="0.04" textLength="10.80" lengthAdjust="spacingAndGlyphs" >4 hrs</text>
<text x="110.00" y="247.40" font-size="5.8" fill="#ac3c55" stroke="#ac3c55" stroke-width="0.04" textLength="13.50" lengthAdjust="spacingAndGlyphs" >+ PGN</text>
<text x="113.00" y="253.60" font-size="5.8" fill="#ac3c55" stroke="#ac3c55" stroke-width="0.04" textLength="10.80" lengthAdjust="spacingAndGlyphs" >2 hrs</text>
<text x="106.20" y="265.90" font-size="5.9" fill="#86658c" stroke="#86658c" stroke-width="0.04" textLength="16.20" lengthAdjust="spacingAndGlyphs" >Unstim.</text>
<text x="107.00" y="284.30" font-size="5.9" fill="#eba55c" stroke="#eba55c" stroke-width="0.04" textLength="17.00" lengthAdjust="spacingAndGlyphs" >isotype</text>
<line x1="37.50" y1="201.70" x2="126.00" y2="201.70" stroke="#231f20" stroke-width="1.4" stroke-linecap="square"/>
<line x1="37.50" y1="201.70" x2="37.50" y2="290.30" stroke="#231f20" stroke-width="1.4" stroke-linecap="square"/>
<line x1="126.00" y1="201.70" x2="126.00" y2="290.30" stroke="#231f20" stroke-width="1.4" stroke-linecap="square"/>
<line x1="37.50" y1="290.30" x2="126.00" y2="290.30" stroke="#231f20" stroke-width="1.4" stroke-linecap="square"/>
<line x1="38.80" y1="290.80" x2="38.80" y2="293.60" stroke="#111" stroke-width="0.8" />
<line x1="40.00" y1="290.80" x2="40.00" y2="293.60" stroke="#111" stroke-width="0.8" />
<line x1="41.20" y1="290.80" x2="41.20" y2="293.60" stroke="#111" stroke-width="0.8" />
<line x1="42.30" y1="290.80" x2="42.30" y2="293.60" stroke="#111" stroke-width="0.8" />
<line x1="43.40" y1="290.80" x2="43.40" y2="293.60" stroke="#111" stroke-width="0.8" />
<line x1="44.40" y1="290.80" x2="44.40" y2="293.60" stroke="#111" stroke-width="0.8" />
<line x1="45.40" y1="290.80" x2="45.40" y2="293.60" stroke="#111" stroke-width="0.8" />
<line x1="46.40" y1="290.80" x2="46.40" y2="293.60" stroke="#111" stroke-width="0.8" />
<line x1="47.30" y1="290.80" x2="47.30" y2="293.60" stroke="#111" stroke-width="0.8" />
<line x1="48.20" y1="290.80" x2="48.20" y2="293.60" stroke="#111" stroke-width="0.8" />
<line x1="49.20" y1="290.80" x2="49.20" y2="293.60" stroke="#111" stroke-width="0.8" />
<line x1="50.30" y1="290.80" x2="50.30" y2="293.60" stroke="#111" stroke-width="0.8" />
<line x1="51.50" y1="290.80" x2="51.50" y2="293.60" stroke="#111" stroke-width="0.8" />
<line x1="52.80" y1="290.80" x2="52.80" y2="293.60" stroke="#111" stroke-width="0.8" />
<line x1="54.20" y1="290.80" x2="54.20" y2="293.60" stroke="#111" stroke-width="0.8" />
<line x1="55.60" y1="290.80" x2="55.60" y2="293.60" stroke="#111" stroke-width="0.8" />
<line x1="62.71" y1="290.80" x2="62.71" y2="293.40" stroke="#111" stroke-width="0.8" />
<line x1="66.29" y1="290.80" x2="66.29" y2="293.40" stroke="#111" stroke-width="0.8" />
<line x1="68.82" y1="290.80" x2="68.82" y2="293.40" stroke="#111" stroke-width="0.8" />
<line x1="70.79" y1="290.80" x2="70.79" y2="293.40" stroke="#111" stroke-width="0.8" />
<line x1="72.40" y1="290.80" x2="72.40" y2="293.40" stroke="#111" stroke-width="0.8" />
<line x1="73.76" y1="290.80" x2="73.76" y2="293.40" stroke="#111" stroke-width="0.8" />
<line x1="74.93" y1="290.80" x2="74.93" y2="293.40" stroke="#111" stroke-width="0.8" />
<line x1="75.97" y1="290.80" x2="75.97" y2="293.40" stroke="#111" stroke-width="0.8" />
<line x1="83.01" y1="290.80" x2="83.01" y2="293.40" stroke="#111" stroke-width="0.8" />
<line x1="86.59" y1="290.80" x2="86.59" y2="293.40" stroke="#111" stroke-width="0.8" />
<line x1="89.12" y1="290.80" x2="89.12" y2="293.40" stroke="#111" stroke-width="0.8" />
<line x1="91.09" y1="290.80" x2="91.09" y2="293.40" stroke="#111" stroke-width="0.8" />
<line x1="92.70" y1="290.80" x2="92.70" y2="293.40" stroke="#111" stroke-width="0.8" />
<line x1="94.06" y1="290.80" x2="94.06" y2="293.40" stroke="#111" stroke-width="0.8" />
<line x1="95.23" y1="290.80" x2="95.23" y2="293.40" stroke="#111" stroke-width="0.8" />
<line x1="96.27" y1="290.80" x2="96.27" y2="293.40" stroke="#111" stroke-width="0.8" />
<line x1="103.31" y1="290.80" x2="103.31" y2="293.40" stroke="#111" stroke-width="0.8" />
<line x1="106.89" y1="290.80" x2="106.89" y2="293.40" stroke="#111" stroke-width="0.8" />
<line x1="109.42" y1="290.80" x2="109.42" y2="293.40" stroke="#111" stroke-width="0.8" />
<line x1="111.39" y1="290.80" x2="111.39" y2="293.40" stroke="#111" stroke-width="0.8" />
<line x1="113.00" y1="290.80" x2="113.00" y2="293.40" stroke="#111" stroke-width="0.8" />
<line x1="114.36" y1="290.80" x2="114.36" y2="293.40" stroke="#111" stroke-width="0.8" />
<line x1="115.53" y1="290.80" x2="115.53" y2="293.40" stroke="#111" stroke-width="0.8" />
<line x1="116.57" y1="290.80" x2="116.57" y2="293.40" stroke="#111" stroke-width="0.8" />
<line x1="123.61" y1="290.80" x2="123.61" y2="293.40" stroke="#111" stroke-width="0.8" />
<line x1="76.90" y1="290.80" x2="76.90" y2="294.40" stroke="#111" stroke-width="0.8" />
<line x1="97.20" y1="290.80" x2="97.20" y2="294.40" stroke="#111" stroke-width="0.8" />
<line x1="117.50" y1="290.80" x2="117.50" y2="294.40" stroke="#111" stroke-width="0.8" />
<text x="47.10" y="303.60" font-size="7.2" fill="#231f20" stroke="#231f20" stroke-width="0.16" text-anchor="middle" >0</text>
<text x="71.60" y="303.60" font-size="7.3" fill="#231f20" stroke="#231f20" stroke-width="0.14" textLength="7.4" lengthAdjust="spacingAndGlyphs">10</text>
<text x="79.10" y="301.00" font-size="5.0" fill="#231f20" stroke="#231f20" stroke-width="0.12">3</text>
<text x="91.90" y="303.60" font-size="7.3" fill="#231f20" stroke="#231f20" stroke-width="0.14" textLength="7.4" lengthAdjust="spacingAndGlyphs">10</text>
<text x="99.40" y="301.00" font-size="5.0" fill="#231f20" stroke="#231f20" stroke-width="0.12">4</text>
<text x="112.20" y="303.60" font-size="7.3" fill="#231f20" stroke="#231f20" stroke-width="0.14" textLength="7.4" lengthAdjust="spacingAndGlyphs">10</text>
<text x="119.70" y="301.00" font-size="5.0" fill="#231f20" stroke="#231f20" stroke-width="0.12">5</text>
<path d="M30.60,265.30 L30.60,312.10 L71.30,312.10" fill="none" stroke="#2a2a2a" stroke-width="1.1"/>
<path d="M30.60,260.30 L27.85,266.70 L30.60,265.50 L33.35,266.70 Z" fill="#111"/>
<path d="M76.30,312.10 L69.90,309.35 L71.10,312.10 L69.90,314.85 Z" fill="#111"/>
<text x="25.90" y="300.20" font-size="8.0" fill="#231f20" stroke="#231f20" stroke-width="0.06" textLength="23.20" lengthAdjust="spacingAndGlyphs" transform="rotate(-90 25.90 300.20)" >% Max</text>
<text x="36.00" y="325.60" font-size="7.7" fill="#231f20" stroke="#231f20" stroke-width="0.1" textLength="27.00" lengthAdjust="spacingAndGlyphs" >TF - APC</text>
<path d="M184.30,110.75 L184.53,104.60 L184.77,102.21 L185.00,100.45 L185.23,99.02 L185.46,97.81 L185.70,96.75 L185.93,95.81 L186.16,94.96 L186.39,94.20 L186.63,93.50 L186.86,92.86 L187.12,92.21 L188.70,88.99 L190.29,86.60 L191.87,84.65 L193.45,82.97 L195.04,81.45 L196.62,80.02 L198.21,78.66 L199.79,77.37 L201.38,76.16 L202.96,75.02 L204.55,73.96 L206.13,72.99 L207.72,72.09 L209.30,71.28 L210.89,70.54 L212.47,69.85 L214.05,69.19 L215.64,68.57 L217.22,67.97 L218.81,67.40 L220.39,66.86 L221.98,66.34 L223.56,65.84 L225.15,65.35 L226.73,64.89 L228.32,64.44 L229.90,64.01 L231.49,63.59 L233.07,63.18 L234.65,62.78 L236.24,62.39 L237.82,62.02 L239.41,61.65 L240.99,61.29 L242.58,60.94 L244.16,60.60 L245.75,60.26 L247.33,59.93 L248.92,59.61 L250.50,59.29 L252.08,58.98 L253.67,58.67 L255.25,58.37 L256.84,58.07 L258.42,57.78 L260.01,57.49 L261.59,57.21 L263.18,56.94 L264.76,56.66 L266.35,56.40 L267.93,56.13 L269.52,55.88 L271.10,55.62 L272.68,55.37 L274.27,55.13 L275.85,54.89 L277.44,54.65 L279.02,54.42 L280.61,54.19 L282.19,53.96 L283.78,53.74 L285.36,53.52 L286.95,53.31 L288.53,53.10 L290.12,52.89 L291.70,52.69 L293.28,52.48 L294.87,52.29 L296.45,52.09 L298.04,51.90 L299.62,51.72 L301.21,51.53 L302.79,51.35 L304.38,51.17 L305.96,51.00 L307.55,50.82 L309.13,50.65 L310.72,50.49 L312.30,50.33" fill="none" stroke="#2b2b2b" stroke-width="1.0" />
<path d="M184.30,116.18 L184.53,111.35 L184.77,109.40 L185.00,107.93 L185.23,106.71 L185.46,105.64 L185.70,104.69 L185.93,103.83 L186.16,103.03 L186.39,102.29 L186.63,101.59 L186.86,100.94 L187.12,100.26 L188.70,96.63 L190.29,93.69 L191.87,91.20 L193.45,89.05 L195.04,87.17 L196.62,85.50 L198.21,84.00 L199.79,82.59 L201.38,81.27 L202.96,80.06 L204.55,78.96 L206.13,77.98 L207.72,77.13 L209.30,76.40 L210.89,75.79 L212.47,75.24 L214.05,74.73 L215.64,74.27 L217.22,73.84 L218.81,73.45 L220.39,73.07 L221.98,72.73 L223.56,72.40 L225.15,72.08 L226.73,71.78 L228.32,71.49 L229.90,71.21 L231.49,70.94 L233.07,70.67 L234.65,70.40 L236.24,70.14 L237.82,69.88 L239.41,69.61 L240.99,69.35 L242.58,69.08 L244.16,68.81 L245.75,68.54 L247.33,68.25 L248.92,67.97 L250.50,67.68 L252.08,67.40 L253.67,67.12 L255.25,66.84 L256.84,66.57 L258.42,66.29 L260.01,66.02 L261.59,65.75 L263.18,65.48 L264.76,65.21 L266.35,64.95 L267.93,64.69 L269.52,64.43 L271.10,64.17 L272.68,63.91 L274.27,63.65 L275.85,63.40 L277.44,63.14 L279.02,62.89 L280.61,62.64 L282.19,62.39 L283.78,62.14 L285.36,61.90 L286.95,61.65 L288.53,61.41 L290.12,61.16 L291.70,60.92 L293.28,60.68 L294.87,60.44 L296.45,60.20 L298.04,59.97 L299.62,59.73 L301.21,59.50 L302.79,59.26 L304.38,59.03 L305.96,58.80 L307.55,58.57 L309.13,58.34 L310.72,58.11 L312.30,57.88" fill="none" stroke="#6e6e6e" stroke-width="0.75" stroke-dasharray="1.2,0.6"/>
<line x1="186.86" y1="92.86" x2="186.86" y2="79.61" stroke="#2a2a2a" stroke-width="0.9" />
<line x1="185.16" y1="79.61" x2="188.56" y2="79.61" stroke="#2a2a2a" stroke-width="0.9" />
<line x1="197.10" y1="79.61" x2="197.10" y2="67.82" stroke="#2a2a2a" stroke-width="0.9" />
<line x1="195.40" y1="67.82" x2="198.80" y2="67.82" stroke="#2a2a2a" stroke-width="0.9" />
<line x1="209.90" y1="71.00" x2="209.90" y2="61.85" stroke="#2a2a2a" stroke-width="0.9" />
<line x1="208.20" y1="61.85" x2="211.60" y2="61.85" stroke="#2a2a2a" stroke-width="0.9" />
<line x1="248.30" y1="59.73" x2="248.30" y2="51.52" stroke="#2a2a2a" stroke-width="0.9" />
<line x1="246.60" y1="51.52" x2="250.00" y2="51.52" stroke="#2a2a2a" stroke-width="0.9" />
<line x1="312.30" y1="50.33" x2="312.30" y2="43.97" stroke="#2a2a2a" stroke-width="0.9" />
<line x1="310.60" y1="43.97" x2="314.00" y2="43.97" stroke="#2a2a2a" stroke-width="0.9" />
<line x1="186.86" y1="100.94" x2="186.86" y2="108.62" stroke="#2a2a2a" stroke-width="0.9" />
<line x1="185.16" y1="108.62" x2="188.56" y2="108.62" stroke="#2a2a2a" stroke-width="0.9" />
<line x1="197.10" y1="85.04" x2="197.10" y2="94.71" stroke="#2a2a2a" stroke-width="0.9" />
<line x1="195.40" y1="94.71" x2="198.80" y2="94.71" stroke="#2a2a2a" stroke-width="0.9" />
<line x1="209.90" y1="76.16" x2="209.90" y2="84.38" stroke="#2a2a2a" stroke-width="0.9" />
<line x1="208.20" y1="84.38" x2="211.60" y2="84.38" stroke="#2a2a2a" stroke-width="0.9" />
<line x1="248.30" y1="68.08" x2="248.30" y2="76.30" stroke="#2a2a2a" stroke-width="0.9" />
<line x1="246.60" y1="76.30" x2="250.00" y2="76.30" stroke="#2a2a2a" stroke-width="0.9" />
<line x1="312.30" y1="57.88" x2="312.30" y2="65.43" stroke="#2a2a2a" stroke-width="0.9" />
<line x1="310.60" y1="65.43" x2="314.00" y2="65.43" stroke="#2a2a2a" stroke-width="0.9" />
<line x1="184.30" y1="37.40" x2="184.30" y2="125.80" stroke="#231f20" stroke-width="1.35" />
<line x1="181.30" y1="123.20" x2="314.40" y2="123.20" stroke="#231f20" stroke-width="1.35" />
<line x1="181.10" y1="123.20" x2="184.30" y2="123.20" stroke="#231f20" stroke-width="1.2" />
<text x="178.00" y="125.75" font-size="7.1" fill="#231f20" stroke="#231f20" stroke-width="0.16" text-anchor="end" >0</text>
<line x1="181.10" y1="96.70" x2="184.30" y2="96.70" stroke="#231f20" stroke-width="1.2" />
<text x="178.00" y="99.25" font-size="7.1" fill="#231f20" stroke="#231f20" stroke-width="0.16" text-anchor="end" >20</text>
<line x1="181.10" y1="70.20" x2="184.30" y2="70.20" stroke="#231f20" stroke-width="1.2" />
<text x="178.00" y="72.75" font-size="7.1" fill="#231f20" stroke="#231f20" stroke-width="0.16" text-anchor="end" >40</text>
<line x1="181.10" y1="43.70" x2="184.30" y2="43.70" stroke="#231f20" stroke-width="1.2" />
<text x="178.00" y="46.25" font-size="7.1" fill="#231f20" stroke="#231f20" stroke-width="0.16" text-anchor="end" >60</text>
<line x1="184.30" y1="123.20" x2="184.30" y2="125.80" stroke="#231f20" stroke-width="1.2" />
<text x="184.30" y="135.90" font-size="7.1" fill="#231f20" stroke="#231f20" stroke-width="0.16" text-anchor="middle" >0</text>
<line x1="209.90" y1="123.20" x2="209.90" y2="125.80" stroke="#231f20" stroke-width="1.2" />
<text x="209.90" y="135.90" font-size="7.1" fill="#231f20" stroke="#231f20" stroke-width="0.16" text-anchor="middle" >10</text>
<line x1="235.50" y1="123.20" x2="235.50" y2="125.80" stroke="#231f20" stroke-width="1.2" />
<text x="235.50" y="135.90" font-size="7.1" fill="#231f20" stroke="#231f20" stroke-width="0.16" text-anchor="middle" >20</text>
<line x1="261.10" y1="123.20" x2="261.10" y2="125.80" stroke="#231f20" stroke-width="1.2" />
<text x="261.10" y="135.90" font-size="7.1" fill="#231f20" stroke="#231f20" stroke-width="0.16" text-anchor="middle" >30</text>
<line x1="286.70" y1="123.20" x2="286.70" y2="125.80" stroke="#231f20" stroke-width="1.2" />
<text x="286.70" y="135.90" font-size="7.1" fill="#231f20" stroke="#231f20" stroke-width="0.16" text-anchor="middle" >40</text>
<line x1="312.30" y1="123.20" x2="312.30" y2="125.80" stroke="#231f20" stroke-width="1.2" />
<text x="312.30" y="135.90" font-size="7.1" fill="#231f20" stroke="#231f20" stroke-width="0.16" text-anchor="middle" >50</text>
<rect x="182.75" y="109.20" width="3.10" height="3.10" fill="#4a6ca4" stroke="#121218" stroke-width="0.85"/>
<rect x="185.31" y="91.31" width="3.10" height="3.10" fill="#4a6ca4" stroke="#121218" stroke-width="0.85"/>
<rect x="195.55" y="78.06" width="3.10" height="3.10" fill="#4a6ca4" stroke="#121218" stroke-width="0.85"/>
<rect x="208.35" y="69.45" width="3.10" height="3.10" fill="#4a6ca4" stroke="#121218" stroke-width="0.85"/>
<rect x="246.75" y="58.18" width="3.10" height="3.10" fill="#4a6ca4" stroke="#121218" stroke-width="0.85"/>
<rect x="310.75" y="48.78" width="3.10" height="3.10" fill="#4a6ca4" stroke="#121218" stroke-width="0.85"/>
<circle cx="184.30" cy="116.18" r="1.55" fill="#bb233c" stroke="#121218" stroke-width="0.85"/>
<circle cx="186.86" cy="100.94" r="1.55" fill="#bb233c" stroke="#121218" stroke-width="0.85"/>
<circle cx="197.10" cy="85.04" r="1.55" fill="#bb233c" stroke="#121218" stroke-width="0.85"/>
<circle cx="209.90" cy="76.16" r="1.55" fill="#bb233c" stroke="#121218" stroke-width="0.85"/>
<circle cx="248.30" cy="68.08" r="1.55" fill="#bb233c" stroke="#121218" stroke-width="0.85"/>
<circle cx="312.30" cy="57.88" r="1.55" fill="#bb233c" stroke="#121218" stroke-width="0.85"/>
<text x="150.20" y="130.50" font-size="9.4" fill="#231f20" stroke="#231f20" stroke-width="0.16" textLength="100.20" lengthAdjust="spacingAndGlyphs" transform="rotate(-90 150.20 130.50)" >TF producing monocytes</text>
<text x="162.80" y="102.10" font-size="9.4" fill="#231f20" stroke="#231f20" stroke-width="0.16" textLength="43.80" lengthAdjust="spacingAndGlyphs" transform="rotate(-90 162.80 102.10)" >(% CD14+)</text>
<text x="193.30" y="149.60" font-size="9.4" fill="#231f20" stroke="#231f20" stroke-width="0.16" textLength="110.30" lengthAdjust="spacingAndGlyphs" >PGN concentration (µg/mL)</text>
<line x1="254.40" y1="105.50" x2="263.20" y2="105.50" stroke="#444" stroke-width="0.85" />
<circle cx="258.80" cy="105.50" r="1.55" fill="#bb233c" stroke="#121218" stroke-width="0.85"/>
<text x="267.80" y="108.10" font-size="7.3" fill="#231f20" stroke="#231f20" stroke-width="0.16" textLength="32.80" lengthAdjust="spacingAndGlyphs" >1% serum</text>
<line x1="254.40" y1="117.00" x2="263.20" y2="117.00" stroke="#444" stroke-width="0.85" />
<rect x="257.25" y="115.45" width="3.10" height="3.10" fill="#4a6ca4" stroke="#121218" stroke-width="0.85"/>
<text x="267.80" y="119.60" font-size="7.3" fill="#231f20" stroke="#231f20" stroke-width="0.16" textLength="36.70" lengthAdjust="spacingAndGlyphs" >10% serum</text>
<path d="M380.50,110.16 L380.73,104.36 L380.96,102.14 L381.20,100.51 L381.43,99.21 L381.66,98.12 L381.89,97.18 L382.12,96.36 L382.35,95.64 L382.59,94.99 L382.82,94.42 L383.05,93.90 L383.31,93.38 L384.88,90.86 L386.46,89.06 L388.04,87.63 L389.62,86.42 L391.20,85.34 L392.78,84.34 L394.35,83.40 L395.93,82.54 L397.51,81.75 L399.09,81.01 L400.67,80.32 L402.25,79.68 L403.82,79.07 L405.40,78.49 L406.98,77.93 L408.56,77.41 L410.14,76.92 L411.72,76.44 L413.29,75.99 L414.87,75.56 L416.45,75.14 L418.03,74.74 L419.61,74.34 L421.19,73.96 L422.77,73.58 L424.34,73.22 L425.92,72.86 L427.50,72.50 L429.08,72.15 L430.66,71.80 L432.24,71.46 L433.81,71.11 L435.39,70.77 L436.97,70.43 L438.55,70.09 L440.13,69.75 L441.71,69.41 L443.28,69.07 L444.86,68.72 L446.44,68.38 L448.02,68.04 L449.60,67.70 L451.18,67.37 L452.76,67.03 L454.33,66.70 L455.91,66.37 L457.49,66.04 L459.07,65.72 L460.65,65.39 L462.23,65.07 L463.80,64.74 L465.38,64.42 L466.96,64.10 L468.54,63.79 L470.12,63.47 L471.70,63.15 L473.27,62.84 L474.85,62.53 L476.43,62.22 L478.01,61.91 L479.59,61.60 L481.17,61.29 L482.75,60.99 L484.32,60.68 L485.90,60.38 L487.48,60.07 L489.06,59.77 L490.64,59.47 L492.22,59.17 L493.79,58.87 L495.37,58.58 L496.95,58.28 L498.53,57.98 L500.11,57.69 L501.69,57.40 L503.26,57.10 L504.84,56.81 L506.42,56.52 L508.00,56.23" fill="none" stroke="#2b2b2b" stroke-width="1.0" />
<path d="M380.50,113.37 L380.73,110.47 L380.96,109.29 L381.20,108.38 L381.43,107.62 L381.66,106.96 L381.89,106.36 L382.12,105.81 L382.35,105.30 L382.59,104.83 L382.82,104.38 L383.05,103.95 L383.31,103.51 L384.88,101.08 L386.46,99.07 L388.04,97.34 L389.62,95.84 L391.20,94.52 L392.78,93.36 L394.35,92.32 L395.93,91.36 L397.51,90.46 L399.09,89.64 L400.67,88.88 L402.25,88.20 L403.82,87.58 L405.40,87.03 L406.98,86.54 L408.56,86.09 L410.14,85.68 L411.72,85.30 L413.29,84.94 L414.87,84.60 L416.45,84.29 L418.03,83.99 L419.61,83.70 L421.19,83.43 L422.77,83.16 L424.34,82.91 L425.92,82.65 L427.50,82.41 L429.08,82.16 L430.66,81.92 L432.24,81.68 L433.81,81.43 L435.39,81.19 L436.97,80.95 L438.55,80.70 L440.13,80.45 L441.71,80.19 L443.28,79.93 L444.86,79.67 L446.44,79.41 L448.02,79.14 L449.60,78.88 L451.18,78.62 L452.76,78.36 L454.33,78.10 L455.91,77.84 L457.49,77.58 L459.07,77.33 L460.65,77.07 L462.23,76.81 L463.80,76.56 L465.38,76.31 L466.96,76.05 L468.54,75.80 L470.12,75.55 L471.70,75.30 L473.27,75.05 L474.85,74.80 L476.43,74.55 L478.01,74.30 L479.59,74.06 L481.17,73.81 L482.75,73.56 L484.32,73.32 L485.90,73.07 L487.48,72.83 L489.06,72.59 L490.64,72.34 L492.22,72.10 L493.79,71.86 L495.37,71.62 L496.95,71.38 L498.53,71.14 L500.11,70.90 L501.69,70.66 L503.26,70.42 L504.84,70.19 L506.42,69.95 L508.00,69.71" fill="none" stroke="#6e6e6e" stroke-width="0.75" stroke-dasharray="1.2,0.6"/>
<line x1="383.05" y1="93.90" x2="383.05" y2="85.34" stroke="#2a2a2a" stroke-width="0.9" />
<line x1="381.35" y1="85.34" x2="384.75" y2="85.34" stroke="#2a2a2a" stroke-width="0.9" />
<line x1="393.25" y1="84.05" x2="393.25" y2="73.78" stroke="#2a2a2a" stroke-width="0.9" />
<line x1="391.55" y1="73.78" x2="394.95" y2="73.78" stroke="#2a2a2a" stroke-width="0.9" />
<line x1="406.00" y1="78.27" x2="406.00" y2="69.29" stroke="#2a2a2a" stroke-width="0.9" />
<line x1="404.30" y1="69.29" x2="407.70" y2="69.29" stroke="#2a2a2a" stroke-width="0.9" />
<line x1="444.25" y1="68.86" x2="444.25" y2="59.44" stroke="#2a2a2a" stroke-width="0.9" />
<line x1="442.55" y1="59.44" x2="445.95" y2="59.44" stroke="#2a2a2a" stroke-width="0.9" />
<line x1="508.00" y1="56.23" x2="508.00" y2="45.53" stroke="#2a2a2a" stroke-width="0.9" />
<line x1="506.30" y1="45.53" x2="509.70" y2="45.53" stroke="#2a2a2a" stroke-width="0.9" />
<line x1="383.05" y1="103.95" x2="383.05" y2="108.23" stroke="#2a2a2a" stroke-width="0.9" />
<line x1="381.35" y1="108.23" x2="384.75" y2="108.23" stroke="#2a2a2a" stroke-width="0.9" />
<line x1="393.25" y1="93.04" x2="393.25" y2="99.03" stroke="#2a2a2a" stroke-width="0.9" />
<line x1="391.55" y1="99.03" x2="394.95" y2="99.03" stroke="#2a2a2a" stroke-width="0.9" />
<line x1="406.00" y1="86.83" x2="406.00" y2="92.40" stroke="#2a2a2a" stroke-width="0.9" />
<line x1="404.30" y1="92.40" x2="407.70" y2="92.40" stroke="#2a2a2a" stroke-width="0.9" />
<line x1="444.25" y1="79.77" x2="444.25" y2="86.62" stroke="#2a2a2a" stroke-width="0.9" />
<line x1="442.55" y1="86.62" x2="445.95" y2="86.62" stroke="#2a2a2a" stroke-width="0.9" />
<line x1="508.00" y1="69.71" x2="508.00" y2="76.78" stroke="#2a2a2a" stroke-width="0.9" />
<line x1="506.30" y1="76.78" x2="509.70" y2="76.78" stroke="#2a2a2a" stroke-width="0.9" />
<line x1="380.50" y1="34.20" x2="380.50" y2="125.60" stroke="#231f20" stroke-width="1.35" />
<line x1="377.50" y1="123.00" x2="510.50" y2="123.00" stroke="#231f20" stroke-width="1.35" />
<line x1="377.30" y1="123.00" x2="380.50" y2="123.00" stroke="#231f20" stroke-width="1.2" />
<text x="374.20" y="125.55" font-size="7.1" fill="#231f20" stroke="#231f20" stroke-width="0.16" text-anchor="end" >0</text>
<line x1="377.30" y1="101.60" x2="380.50" y2="101.60" stroke="#231f20" stroke-width="1.2" />
<text x="374.20" y="104.15" font-size="7.1" fill="#231f20" stroke="#231f20" stroke-width="0.16" text-anchor="end" >0.5</text>
<line x1="377.30" y1="80.20" x2="380.50" y2="80.20" stroke="#231f20" stroke-width="1.2" />
<text x="374.20" y="82.75" font-size="7.1" fill="#231f20" stroke="#231f20" stroke-width="0.16" text-anchor="end" >1.0</text>
<line x1="377.30" y1="58.80" x2="380.50" y2="58.80" stroke="#231f20" stroke-width="1.2" />
<text x="374.20" y="61.35" font-size="7.1" fill="#231f20" stroke="#231f20" stroke-width="0.16" text-anchor="end" >1.5</text>
<line x1="377.30" y1="37.40" x2="380.50" y2="37.40" stroke="#231f20" stroke-width="1.2" />
<text x="374.20" y="39.95" font-size="7.1" fill="#231f20" stroke="#231f20" stroke-width="0.16" text-anchor="end" >2.0</text>
<line x1="380.50" y1="123.00" x2="380.50" y2="125.60" stroke="#231f20" stroke-width="1.2" />
<text x="380.50" y="135.70" font-size="7.1" fill="#231f20" stroke="#231f20" stroke-width="0.16" text-anchor="middle" >0</text>
<line x1="406.00" y1="123.00" x2="406.00" y2="125.60" stroke="#231f20" stroke-width="1.2" />
<text x="406.00" y="135.70" font-size="7.1" fill="#231f20" stroke="#231f20" stroke-width="0.16" text-anchor="middle" >10</text>
<line x1="431.50" y1="123.00" x2="431.50" y2="125.60" stroke="#231f20" stroke-width="1.2" />
<text x="431.50" y="135.70" font-size="7.1" fill="#231f20" stroke="#231f20" stroke-width="0.16" text-anchor="middle" >20</text>
<line x1="457.00" y1="123.00" x2="457.00" y2="125.60" stroke="#231f20" stroke-width="1.2" />
<text x="457.00" y="135.70" font-size="7.1" fill="#231f20" stroke="#231f20" stroke-width="0.16" text-anchor="middle" >30</text>
<line x1="482.50" y1="123.00" x2="482.50" y2="125.60" stroke="#231f20" stroke-width="1.2" />
<text x="482.50" y="135.70" font-size="7.1" fill="#231f20" stroke="#231f20" stroke-width="0.16" text-anchor="middle" >40</text>
<line x1="508.00" y1="123.00" x2="508.00" y2="125.60" stroke="#231f20" stroke-width="1.2" />
<text x="508.00" y="135.70" font-size="7.1" fill="#231f20" stroke="#231f20" stroke-width="0.16" text-anchor="middle" >50</text>
<rect x="378.95" y="108.61" width="3.10" height="3.10" fill="#4a6ca4" stroke="#121218" stroke-width="0.85"/>
<rect x="381.50" y="92.35" width="3.10" height="3.10" fill="#4a6ca4" stroke="#121218" stroke-width="0.85"/>
<rect x="391.70" y="82.50" width="3.10" height="3.10" fill="#4a6ca4" stroke="#121218" stroke-width="0.85"/>
<rect x="404.45" y="76.72" width="3.10" height="3.10" fill="#4a6ca4" stroke="#121218" stroke-width="0.85"/>
<rect x="442.70" y="67.31" width="3.10" height="3.10" fill="#4a6ca4" stroke="#121218" stroke-width="0.85"/>
<rect x="506.45" y="54.68" width="3.10" height="3.10" fill="#4a6ca4" stroke="#121218" stroke-width="0.85"/>
<circle cx="380.50" cy="113.37" r="1.55" fill="#bb233c" stroke="#121218" stroke-width="0.85"/>
<circle cx="383.05" cy="103.95" r="1.55" fill="#bb233c" stroke="#121218" stroke-width="0.85"/>
<circle cx="393.25" cy="93.04" r="1.55" fill="#bb233c" stroke="#121218" stroke-width="0.85"/>
<circle cx="406.00" cy="86.83" r="1.55" fill="#bb233c" stroke="#121218" stroke-width="0.85"/>
<circle cx="444.25" cy="79.77" r="1.55" fill="#bb233c" stroke="#121218" stroke-width="0.85"/>
<circle cx="508.00" cy="69.71" r="1.55" fill="#bb233c" stroke="#121218" stroke-width="0.85"/>
<text x="345.10" y="128.60" font-size="9.4" fill="#231f20" stroke="#231f20" stroke-width="0.16" textLength="98.20" lengthAdjust="spacingAndGlyphs" transform="rotate(-90 345.10 128.60)" >Monocyte TF expression</text>
<text x="356.70" y="102.90" font-size="9.4" fill="#231f20" stroke="#231f20" stroke-width="0.16" textLength="46.70" lengthAdjust="spacingAndGlyphs" transform="rotate(-90 356.70 102.90)" >(RFI, x10e3)</text>
<text x="390.10" y="149.90" font-size="9.4" fill="#231f20" stroke="#231f20" stroke-width="0.16" textLength="109.30" lengthAdjust="spacingAndGlyphs" >PGN concentration (µg/mL)</text>
<line x1="450.40" y1="105.40" x2="459.20" y2="105.40" stroke="#444" stroke-width="0.85" />
<circle cx="454.80" cy="105.40" r="1.55" fill="#bb233c" stroke="#121218" stroke-width="0.85"/>
<text x="463.90" y="108.00" font-size="7.3" fill="#231f20" stroke="#231f20" stroke-width="0.16" textLength="30.10" lengthAdjust="spacingAndGlyphs" >1% serum</text>
<line x1="450.40" y1="116.80" x2="459.20" y2="116.80" stroke="#444" stroke-width="0.85" />
<rect x="453.25" y="115.25" width="3.10" height="3.10" fill="#4a6ca4" stroke="#121218" stroke-width="0.85"/>
<text x="463.90" y="119.40" font-size="7.3" fill="#231f20" stroke="#231f20" stroke-width="0.16" textLength="34.40" lengthAdjust="spacingAndGlyphs" >10% serum</text>
<line x1="202.10" y1="287.50" x2="202.10" y2="290.20" stroke="#666" stroke-width="0.85" />
<line x1="197.60" y1="287.50" x2="206.60" y2="287.50" stroke="#333" stroke-width="0.85" />
<line x1="197.60" y1="290.20" x2="206.60" y2="290.20" stroke="#333" stroke-width="0.85" />
<line x1="232.30" y1="270.00" x2="232.30" y2="290.20" stroke="#666" stroke-width="0.85" />
<line x1="227.30" y1="270.00" x2="237.30" y2="270.00" stroke="#333" stroke-width="0.85" />
<line x1="227.30" y1="290.20" x2="237.30" y2="290.20" stroke="#333" stroke-width="0.85" />
<line x1="262.10" y1="241.70" x2="262.10" y2="263.10" stroke="#666" stroke-width="0.85" />
<line x1="257.10" y1="241.70" x2="267.10" y2="241.70" stroke="#333" stroke-width="0.85" />
<line x1="257.10" y1="263.10" x2="267.10" y2="263.10" stroke="#333" stroke-width="0.85" />
<line x1="292.50" y1="229.40" x2="292.50" y2="251.20" stroke="#666" stroke-width="0.85" />
<line x1="287.50" y1="229.40" x2="297.50" y2="229.40" stroke="#333" stroke-width="0.85" />
<line x1="287.50" y1="251.20" x2="297.50" y2="251.20" stroke="#333" stroke-width="0.85" />
<circle cx="192.90" cy="288.10" r="1.42" fill="#4a6ca4" stroke="#121218" stroke-width="0.8"/>
<circle cx="194.30" cy="289.60" r="1.42" fill="#bb233c" stroke="#121218" stroke-width="0.8"/>
<circle cx="199.80" cy="286.40" r="1.42" fill="#4a6ca4" stroke="#121218" stroke-width="0.8"/>
<rect x="202.58" y="283.78" width="2.84" height="2.84" fill="#252525" stroke="#121218" stroke-width="0.8"/>
<rect x="204.18" y="283.78" width="2.84" height="2.84" fill="#252525" stroke="#121218" stroke-width="0.8"/>
<circle cx="202.70" cy="290.00" r="1.42" fill="#4a6ca4" stroke="#121218" stroke-width="0.8"/>
<path d="M211.40,284.73 L213.10,287.85 L209.70,287.85 Z" fill="#bb233c" stroke="#121218" stroke-width="0.8" stroke-linejoin="round"/>
<circle cx="209.60" cy="288.50" r="1.42" fill="#bb233c" stroke="#121218" stroke-width="0.8"/>
<circle cx="206.70" cy="289.60" r="1.42" fill="#bb233c" stroke="#121218" stroke-width="0.8"/>
<path d="M197.50,287.65 L199.13,289.50 L197.50,291.35 L195.87,289.50 Z" fill="#bb233c" stroke="#121218" stroke-width="0.8"/>
<path d="M201.00,290.77 L202.70,287.65 L199.30,287.65 Z" fill="#252525" stroke="#121218" stroke-width="0.8" stroke-linejoin="round"/>
<path d="M234.70,259.88 L236.40,256.75 L233.00,256.75 Z" fill="#bb233c" stroke="#121218" stroke-width="0.8" stroke-linejoin="round"/>
<path d="M229.80,260.93 L231.50,264.05 L228.10,264.05 Z" fill="#bb233c" stroke="#121218" stroke-width="0.8" stroke-linejoin="round"/>
<rect x="235.78" y="265.38" width="2.84" height="2.84" fill="#bb233c" stroke="#121218" stroke-width="0.8"/>
<rect x="225.08" y="268.68" width="2.84" height="2.84" fill="#252525" stroke="#121218" stroke-width="0.8"/>
<circle cx="231.90" cy="270.40" r="1.42" fill="#4a6ca4" stroke="#121218" stroke-width="0.8"/>
<circle cx="234.70" cy="275.30" r="1.42" fill="#bb233c" stroke="#121218" stroke-width="0.8"/>
<path d="M229.50,276.83 L231.20,279.95 L227.80,279.95 Z" fill="#4a6ca4" stroke="#121218" stroke-width="0.8" stroke-linejoin="round"/>
<circle cx="229.50" cy="283.00" r="1.42" fill="#4a6ca4" stroke="#121218" stroke-width="0.8"/>
<path d="M234.40,284.77 L236.10,281.65 L232.70,281.65 Z" fill="#4a6ca4" stroke="#121218" stroke-width="0.8" stroke-linejoin="round"/>
<circle cx="222.40" cy="286.70" r="1.42" fill="#bb233c" stroke="#121218" stroke-width="0.8"/>
<circle cx="227.30" cy="289.00" r="1.42" fill="#bb233c" stroke="#121218" stroke-width="0.8"/>
<path d="M231.90,287.75 L233.53,289.60 L231.90,291.45 L230.27,289.60 Z" fill="#4a6ca4" stroke="#121218" stroke-width="0.8"/>
<circle cx="236.70" cy="289.40" r="1.42" fill="#252525" stroke="#121218" stroke-width="0.8"/>
<rect x="240.38" y="285.48" width="2.84" height="2.84" fill="#4a6ca4" stroke="#121218" stroke-width="0.8"/>
<path d="M262.10,228.68 L263.80,225.55 L260.40,225.55 Z" fill="#bb233c" stroke="#121218" stroke-width="0.8" stroke-linejoin="round"/>
<rect x="260.68" y="233.88" width="2.84" height="2.84" fill="#252525" stroke="#121218" stroke-width="0.8"/>
<path d="M256.60,239.85 L258.23,241.70 L256.60,243.55 L254.97,241.70 Z" fill="#bb233c" stroke="#121218" stroke-width="0.8"/>
<path d="M262.10,244.28 L263.80,241.15 L260.40,241.15 Z" fill="#4a6ca4" stroke="#121218" stroke-width="0.8" stroke-linejoin="round"/>
<path d="M267.10,239.92 L268.80,243.05 L265.40,243.05 Z" fill="#bb233c" stroke="#121218" stroke-width="0.8" stroke-linejoin="round"/>
<circle cx="256.90" cy="249.30" r="1.42" fill="#bb233c" stroke="#121218" stroke-width="0.8"/>
<rect x="265.28" y="248.08" width="2.84" height="2.84" fill="#bb233c" stroke="#121218" stroke-width="0.8"/>
<path d="M262.10,251.62 L263.80,254.75 L260.40,254.75 Z" fill="#4a6ca4" stroke="#121218" stroke-width="0.8" stroke-linejoin="round"/>
<circle cx="267.10" cy="255.60" r="1.42" fill="#4a6ca4" stroke="#121218" stroke-width="0.8"/>
<path d="M256.50,261.07 L258.20,257.95 L254.80,257.95 Z" fill="#252525" stroke="#121218" stroke-width="0.8" stroke-linejoin="round"/>
<rect x="260.78" y="257.88" width="2.84" height="2.84" fill="#4a6ca4" stroke="#121218" stroke-width="0.8"/>
<circle cx="262.10" cy="270.90" r="1.42" fill="#bb233c" stroke="#121218" stroke-width="0.8"/>
<circle cx="262.10" cy="279.50" r="1.42" fill="#252525" stroke="#121218" stroke-width="0.8"/>
<path d="M262.10,286.05 L263.73,287.90 L262.10,289.75 L260.47,287.90 Z" fill="#4a6ca4" stroke="#121218" stroke-width="0.8"/>
<path d="M292.80,215.88 L294.50,212.75 L291.10,212.75 Z" fill="#bb233c" stroke="#121218" stroke-width="0.8" stroke-linejoin="round"/>
<path d="M292.80,223.25 L294.43,225.10 L292.80,226.95 L291.17,225.10 Z" fill="#bb233c" stroke="#121218" stroke-width="0.8"/>
<rect x="286.28" y="226.08" width="2.84" height="2.84" fill="#252525" stroke="#121218" stroke-width="0.8"/>
<circle cx="298.50" cy="229.10" r="1.42" fill="#bb233c" stroke="#121218" stroke-width="0.8"/>
<path d="M292.80,230.72 L294.50,233.85 L291.10,233.85 Z" fill="#bb233c" stroke="#121218" stroke-width="0.8" stroke-linejoin="round"/>
<circle cx="287.70" cy="235.20" r="1.42" fill="#4a6ca4" stroke="#121218" stroke-width="0.8"/>
<circle cx="298.50" cy="234.20" r="1.42" fill="#4a6ca4" stroke="#121218" stroke-width="0.8"/>
<rect x="291.38" y="235.78" width="2.84" height="2.84" fill="#4a6ca4" stroke="#121218" stroke-width="0.8"/>
<rect x="294.18" y="239.68" width="2.84" height="2.84" fill="#bb233c" stroke="#121218" stroke-width="0.8"/>
<path d="M290.60,246.68 L292.30,243.55 L288.90,243.55 Z" fill="#4a6ca4" stroke="#121218" stroke-width="0.8" stroke-linejoin="round"/>
<circle cx="290.60" cy="251.20" r="1.42" fill="#bb233c" stroke="#121218" stroke-width="0.8"/>
<path d="M295.50,250.53 L297.20,253.65 L293.80,253.65 Z" fill="#4a6ca4" stroke="#121218" stroke-width="0.8" stroke-linejoin="round"/>
<path d="M295.50,266.45 L297.13,268.30 L295.50,270.15 L293.87,268.30 Z" fill="#4a6ca4" stroke="#121218" stroke-width="0.8"/>
<circle cx="290.60" cy="273.20" r="1.42" fill="#252525" stroke="#121218" stroke-width="0.8"/>
<line x1="192.10" y1="289.20" x2="212.10" y2="289.20" stroke="#222" stroke-width="1.0" />
<line x1="220.10" y1="280.30" x2="244.50" y2="280.30" stroke="#222" stroke-width="1.0" />
<line x1="250.40" y1="251.70" x2="273.80" y2="251.70" stroke="#222" stroke-width="1.0" />
<line x1="280.80" y1="236.90" x2="304.20" y2="236.90" stroke="#222" stroke-width="1.0" />
<line x1="184.30" y1="203.50" x2="184.30" y2="290.40" stroke="#231f20" stroke-width="1.35" />
<line x1="183.70" y1="290.40" x2="310.60" y2="290.40" stroke="#231f20" stroke-width="1.35" />
<line x1="181.10" y1="290.40" x2="184.30" y2="290.40" stroke="#231f20" stroke-width="1.2" />
<text x="178.00" y="292.95" font-size="7.1" fill="#231f20" stroke="#231f20" stroke-width="0.16" text-anchor="end" >0</text>
<line x1="181.10" y1="269.32" x2="184.30" y2="269.32" stroke="#231f20" stroke-width="1.2" />
<text x="178.00" y="271.88" font-size="7.1" fill="#231f20" stroke="#231f20" stroke-width="0.16" text-anchor="end" >20</text>
<line x1="181.10" y1="248.25" x2="184.30" y2="248.25" stroke="#231f20" stroke-width="1.2" />
<text x="178.00" y="250.80" font-size="7.1" fill="#231f20" stroke="#231f20" stroke-width="0.16" text-anchor="end" >40</text>
<line x1="181.10" y1="227.17" x2="184.30" y2="227.17" stroke="#231f20" stroke-width="1.2" />
<text x="178.00" y="229.72" font-size="7.1" fill="#231f20" stroke="#231f20" stroke-width="0.16" text-anchor="end" >60</text>
<line x1="181.10" y1="206.10" x2="184.30" y2="206.10" stroke="#231f20" stroke-width="1.2" />
<text x="178.00" y="208.65" font-size="7.1" fill="#231f20" stroke="#231f20" stroke-width="0.16" text-anchor="end" >80</text>
<line x1="202.10" y1="290.40" x2="202.10" y2="293.20" stroke="#231f20" stroke-width="1.2" />
<text x="202.10" y="303.80" font-size="7.1" fill="#231f20" stroke="#231f20" stroke-width="0.16" text-anchor="middle" >0</text>
<line x1="232.20" y1="290.40" x2="232.20" y2="293.20" stroke="#231f20" stroke-width="1.2" />
<text x="232.20" y="303.80" font-size="7.1" fill="#231f20" stroke="#231f20" stroke-width="0.16" text-anchor="middle" >2</text>
<line x1="262.10" y1="290.40" x2="262.10" y2="293.20" stroke="#231f20" stroke-width="1.2" />
<text x="262.10" y="303.80" font-size="7.1" fill="#231f20" stroke="#231f20" stroke-width="0.16" text-anchor="middle" >4</text>
<line x1="291.90" y1="290.40" x2="291.90" y2="293.20" stroke="#231f20" stroke-width="1.2" />
<text x="291.90" y="303.80" font-size="7.1" fill="#231f20" stroke="#231f20" stroke-width="0.16" text-anchor="middle" >6</text>
<path d="M200.40,215.30 L200.40,208.40 L292.60,208.40 L292.60,210.50" fill="none" stroke="#3a3a3a" stroke-width="0.9"/>
<circle cx="240.00" cy="211.70" r="1.05" fill="#333"/>
<circle cx="243.00" cy="211.70" r="1.05" fill="#333"/>
<circle cx="246.00" cy="211.70" r="1.05" fill="#333"/>
<circle cx="249.00" cy="211.70" r="1.05" fill="#333"/>
<path d="M200.40,226.30 L200.40,217.60 L262.00,217.60 L262.00,222.20" fill="none" stroke="#3a3a3a" stroke-width="0.9"/>
<circle cx="226.70" cy="221.90" r="1.05" fill="#333"/>
<circle cx="229.70" cy="221.90" r="1.05" fill="#333"/>
<circle cx="232.70" cy="221.90" r="1.05" fill="#333"/>
<circle cx="235.70" cy="221.90" r="1.05" fill="#333"/>
<path d="M200.40,238.60 L200.40,229.50 L231.00,229.50 L231.00,234.60" fill="none" stroke="#3a3a3a" stroke-width="0.9"/>
<circle cx="214.50" cy="233.40" r="1.05" fill="#333"/>
<circle cx="217.50" cy="233.40" r="1.05" fill="#333"/>
<text x="150.20" y="298.40" font-size="9.4" fill="#231f20" stroke="#231f20" stroke-width="0.16" textLength="100.40" lengthAdjust="spacingAndGlyphs" transform="rotate(-90 150.20 298.40)" >TF producing monocytes</text>
<text x="162.20" y="269.60" font-size="9.4" fill="#231f20" stroke="#231f20" stroke-width="0.16" textLength="42.90" lengthAdjust="spacingAndGlyphs" transform="rotate(-90 162.20 269.60)" >(% CD14+)</text>
<text x="227.50" y="316.40" font-size="9.4" fill="#231f20" stroke="#231f20" stroke-width="0.16" textLength="39.90" lengthAdjust="spacingAndGlyphs" >Time (hrs)</text>
<line x1="398.70" y1="286.00" x2="398.70" y2="290.20" stroke="#666" stroke-width="0.85" />
<line x1="394.20" y1="286.00" x2="403.20" y2="286.00" stroke="#333" stroke-width="0.85" />
<line x1="394.20" y1="290.20" x2="403.20" y2="290.20" stroke="#333" stroke-width="0.85" />
<line x1="428.50" y1="275.90" x2="428.50" y2="290.20" stroke="#666" stroke-width="0.85" />
<line x1="423.70" y1="275.90" x2="433.30" y2="275.90" stroke="#333" stroke-width="0.85" />
<line x1="423.70" y1="290.20" x2="433.30" y2="290.20" stroke="#333" stroke-width="0.85" />
<line x1="458.80" y1="258.30" x2="458.80" y2="282.50" stroke="#666" stroke-width="0.85" />
<line x1="454.80" y1="258.30" x2="462.80" y2="258.30" stroke="#333" stroke-width="0.85" />
<line x1="454.80" y1="282.50" x2="462.80" y2="282.50" stroke="#333" stroke-width="0.85" />
<line x1="491.40" y1="238.40" x2="491.40" y2="284.60" stroke="#666" stroke-width="0.85" />
<line x1="484.70" y1="238.40" x2="498.10" y2="238.40" stroke="#333" stroke-width="0.85" />
<line x1="484.70" y1="284.60" x2="498.10" y2="284.60" stroke="#333" stroke-width="0.85" />
<circle cx="398.50" cy="267.50" r="1.42" fill="#4a6ca4" stroke="#121218" stroke-width="0.8"/>
<path d="M398.50,275.93 L400.20,279.05 L396.80,279.05 Z" fill="#4a6ca4" stroke="#121218" stroke-width="0.8" stroke-linejoin="round"/>
<path d="M395.90,279.73 L397.60,282.85 L394.20,282.85 Z" fill="#bb233c" stroke="#121218" stroke-width="0.8" stroke-linejoin="round"/>
<rect x="402.48" y="282.28" width="2.84" height="2.84" fill="#4a6ca4" stroke="#121218" stroke-width="0.8"/>
<circle cx="400.90" cy="285.50" r="1.42" fill="#bb233c" stroke="#121218" stroke-width="0.8"/>
<circle cx="390.50" cy="288.00" r="1.42" fill="#bb233c" stroke="#121218" stroke-width="0.8"/>
<rect x="392.08" y="287.08" width="2.84" height="2.84" fill="#4a6ca4" stroke="#121218" stroke-width="0.8"/>
<circle cx="396.00" cy="289.00" r="1.42" fill="#bb233c" stroke="#121218" stroke-width="0.8"/>
<path d="M398.50,287.45 L400.13,289.30 L398.50,291.15 L396.87,289.30 Z" fill="#4a6ca4" stroke="#121218" stroke-width="0.8"/>
<circle cx="401.50" cy="288.20" r="1.42" fill="#bb233c" stroke="#121218" stroke-width="0.8"/>
<circle cx="404.00" cy="288.70" r="1.42" fill="#4a6ca4" stroke="#121218" stroke-width="0.8"/>
<path d="M407.00,290.27 L408.70,287.15 L405.30,287.15 Z" fill="#252525" stroke="#121218" stroke-width="0.8" stroke-linejoin="round"/>
<circle cx="394.00" cy="286.50" r="1.42" fill="#bb233c" stroke="#121218" stroke-width="0.8"/>
<rect x="396.58" y="285.58" width="2.84" height="2.84" fill="#4a6ca4" stroke="#121218" stroke-width="0.8"/>
<circle cx="428.50" cy="264.80" r="1.42" fill="#4a6ca4" stroke="#121218" stroke-width="0.8"/>
<path d="M420.80,270.33 L422.50,273.45 L419.10,273.45 Z" fill="#4a6ca4" stroke="#121218" stroke-width="0.8" stroke-linejoin="round"/>
<path d="M436.50,270.93 L438.20,274.05 L434.80,274.05 Z" fill="#bb233c" stroke="#121218" stroke-width="0.8" stroke-linejoin="round"/>
<rect x="424.48" y="274.68" width="2.84" height="2.84" fill="#4a6ca4" stroke="#121218" stroke-width="0.8"/>
<circle cx="431.30" cy="276.10" r="1.42" fill="#bb233c" stroke="#121218" stroke-width="0.8"/>
<path d="M419.00,283.65 L420.63,285.50 L419.00,287.35 L417.37,285.50 Z" fill="#bb233c" stroke="#121218" stroke-width="0.8"/>
<rect x="421.08" y="285.58" width="2.84" height="2.84" fill="#4a6ca4" stroke="#121218" stroke-width="0.8"/>
<circle cx="425.00" cy="288.00" r="1.42" fill="#252525" stroke="#121218" stroke-width="0.8"/>
<circle cx="426.70" cy="289.00" r="1.42" fill="#bb233c" stroke="#121218" stroke-width="0.8"/>
<rect x="428.08" y="287.08" width="2.84" height="2.84" fill="#4a6ca4" stroke="#121218" stroke-width="0.8"/>
<path d="M431.00,287.65 L432.63,289.50 L431.00,291.35 L429.37,289.50 Z" fill="#4a6ca4" stroke="#121218" stroke-width="0.8"/>
<circle cx="434.50" cy="287.50" r="1.42" fill="#bb233c" stroke="#121218" stroke-width="0.8"/>
<rect x="434.58" y="285.58" width="2.84" height="2.84" fill="#bb233c" stroke="#121218" stroke-width="0.8"/>
<path d="M438.70,284.45 L440.33,286.30 L438.70,288.15 L437.07,286.30 Z" fill="#bb233c" stroke="#121218" stroke-width="0.8"/>
<circle cx="458.80" cy="247.80" r="1.42" fill="#4a6ca4" stroke="#121218" stroke-width="0.8"/>
<path d="M458.80,252.82 L460.50,255.95 L457.10,255.95 Z" fill="#bb233c" stroke="#121218" stroke-width="0.8" stroke-linejoin="round"/>
<path d="M453.60,255.83 L455.30,258.95 L451.90,258.95 Z" fill="#4a6ca4" stroke="#121218" stroke-width="0.8" stroke-linejoin="round"/>
<rect x="462.38" y="256.88" width="2.84" height="2.84" fill="#4a6ca4" stroke="#121218" stroke-width="0.8"/>
<path d="M458.80,258.55 L460.43,260.40 L458.80,262.25 L457.17,260.40 Z" fill="#bb233c" stroke="#121218" stroke-width="0.8"/>
<rect x="454.68" y="266.28" width="2.84" height="2.84" fill="#bb233c" stroke="#121218" stroke-width="0.8"/>
<path d="M461.50,272.57 L463.20,269.45 L459.80,269.45 Z" fill="#bb233c" stroke="#121218" stroke-width="0.8" stroke-linejoin="round"/>
<rect x="457.38" y="276.08" width="2.84" height="2.84" fill="#252525" stroke="#121218" stroke-width="0.8"/>
<circle cx="451.20" cy="279.80" r="1.42" fill="#4a6ca4" stroke="#121218" stroke-width="0.8"/>
<circle cx="456.10" cy="281.60" r="1.42" fill="#bb233c" stroke="#121218" stroke-width="0.8"/>
<path d="M466.40,282.47 L468.10,279.35 L464.70,279.35 Z" fill="#4a6ca4" stroke="#121218" stroke-width="0.8" stroke-linejoin="round"/>
<circle cx="461.00" cy="283.40" r="1.42" fill="#bb233c" stroke="#121218" stroke-width="0.8"/>
<circle cx="456.10" cy="288.50" r="1.42" fill="#252525" stroke="#121218" stroke-width="0.8"/>
<path d="M461.50,286.65 L463.13,288.50 L461.50,290.35 L459.87,288.50 Z" fill="#4a6ca4" stroke="#121218" stroke-width="0.8"/>
<circle cx="488.90" cy="217.30" r="1.42" fill="#4a6ca4" stroke="#121218" stroke-width="0.8"/>
<rect x="482.68" y="231.68" width="2.84" height="2.84" fill="#4a6ca4" stroke="#121218" stroke-width="0.8"/>
<path d="M493.80,231.25 L495.43,233.10 L493.80,234.95 L492.17,233.10 Z" fill="#bb233c" stroke="#121218" stroke-width="0.8"/>
<path d="M488.70,236.42 L490.40,239.55 L487.00,239.55 Z" fill="#bb233c" stroke="#121218" stroke-width="0.8" stroke-linejoin="round"/>
<path d="M488.70,247.08 L490.40,243.95 L487.00,243.95 Z" fill="#bb233c" stroke="#121218" stroke-width="0.8" stroke-linejoin="round"/>
<path d="M486.00,254.92 L487.70,258.05 L484.30,258.05 Z" fill="#4a6ca4" stroke="#121218" stroke-width="0.8" stroke-linejoin="round"/>
<rect x="489.88" y="256.38" width="2.84" height="2.84" fill="#bb233c" stroke="#121218" stroke-width="0.8"/>
<circle cx="491.30" cy="267.10" r="1.42" fill="#bb233c" stroke="#121218" stroke-width="0.8"/>
<rect x="482.98" y="268.98" width="2.84" height="2.84" fill="#252525" stroke="#121218" stroke-width="0.8"/>
<path d="M481.10,275.47 L482.80,272.35 L479.40,272.35 Z" fill="#4a6ca4" stroke="#121218" stroke-width="0.8" stroke-linejoin="round"/>
<circle cx="486.00" cy="275.10" r="1.42" fill="#4a6ca4" stroke="#121218" stroke-width="0.8"/>
<path d="M491.30,273.85 L492.93,275.70 L491.30,277.55 L489.67,275.70 Z" fill="#4a6ca4" stroke="#121218" stroke-width="0.8"/>
<circle cx="496.50" cy="275.10" r="1.42" fill="#bb233c" stroke="#121218" stroke-width="0.8"/>
<circle cx="488.80" cy="287.50" r="1.42" fill="#252525" stroke="#121218" stroke-width="0.8"/>
<line x1="388.20" y1="287.50" x2="409.20" y2="287.50" stroke="#222" stroke-width="1.0" />
<line x1="418.00" y1="287.20" x2="439.00" y2="287.20" stroke="#222" stroke-width="1.0" />
<line x1="446.80" y1="274.20" x2="470.80" y2="274.20" stroke="#222" stroke-width="1.0" />
<line x1="479.40" y1="262.50" x2="503.40" y2="262.50" stroke="#222" stroke-width="1.0" />
<line x1="380.50" y1="206.30" x2="380.50" y2="290.40" stroke="#231f20" stroke-width="1.35" />
<line x1="379.90" y1="290.40" x2="507.00" y2="290.40" stroke="#231f20" stroke-width="1.35" />
<line x1="377.30" y1="290.40" x2="380.50" y2="290.40" stroke="#231f20" stroke-width="1.2" />
<text x="374.20" y="292.95" font-size="7.1" fill="#231f20" stroke="#231f20" stroke-width="0.16" text-anchor="end" >0</text>
<line x1="377.30" y1="271.30" x2="380.50" y2="271.30" stroke="#231f20" stroke-width="1.2" />
<text x="374.20" y="273.85" font-size="7.1" fill="#231f20" stroke="#231f20" stroke-width="0.16" text-anchor="end" >0.5</text>
<line x1="377.30" y1="252.20" x2="380.50" y2="252.20" stroke="#231f20" stroke-width="1.2" />
<text x="374.20" y="254.75" font-size="7.1" fill="#231f20" stroke="#231f20" stroke-width="0.16" text-anchor="end" >1.0</text>
<line x1="377.30" y1="233.10" x2="380.50" y2="233.10" stroke="#231f20" stroke-width="1.2" />
<text x="374.20" y="235.65" font-size="7.1" fill="#231f20" stroke="#231f20" stroke-width="0.16" text-anchor="end" >1.5</text>
<line x1="377.30" y1="214.00" x2="380.50" y2="214.00" stroke="#231f20" stroke-width="1.2" />
<text x="374.20" y="216.55" font-size="7.1" fill="#231f20" stroke="#231f20" stroke-width="0.16" text-anchor="end" >2.0</text>
<line x1="398.70" y1="290.40" x2="398.70" y2="293.20" stroke="#231f20" stroke-width="1.2" />
<text x="398.70" y="303.80" font-size="7.1" fill="#231f20" stroke="#231f20" stroke-width="0.16" text-anchor="middle" >0</text>
<line x1="428.80" y1="290.40" x2="428.80" y2="293.20" stroke="#231f20" stroke-width="1.2" />
<text x="428.80" y="303.80" font-size="7.1" fill="#231f20" stroke="#231f20" stroke-width="0.16" text-anchor="middle" >2</text>
<line x1="458.60" y1="290.40" x2="458.60" y2="293.20" stroke="#231f20" stroke-width="1.2" />
<text x="458.60" y="303.80" font-size="7.1" fill="#231f20" stroke="#231f20" stroke-width="0.16" text-anchor="middle" >4</text>
<line x1="488.80" y1="290.40" x2="488.80" y2="293.20" stroke="#231f20" stroke-width="1.2" />
<text x="488.80" y="303.80" font-size="7.1" fill="#231f20" stroke="#231f20" stroke-width="0.16" text-anchor="middle" >6</text>
<path d="M398.50,215.80 L398.50,208.50 L488.90,208.50 L488.90,212.10" fill="none" stroke="#3a3a3a" stroke-width="0.9"/>
<circle cx="440.50" cy="213.10" r="1.05" fill="#333"/>
<circle cx="443.50" cy="213.10" r="1.05" fill="#333"/>
<circle cx="446.50" cy="213.10" r="1.05" fill="#333"/>
<path d="M398.50,227.30 L398.50,218.60 L459.10,218.60 L459.10,223.80" fill="none" stroke="#3a3a3a" stroke-width="0.9"/>
<circle cx="425.00" cy="221.80" r="1.05" fill="#333"/>
<circle cx="428.00" cy="221.80" r="1.05" fill="#333"/>
<circle cx="431.00" cy="221.80" r="1.05" fill="#333"/>
<path d="M398.50,238.40 L398.50,230.30 L428.80,230.30 L428.80,236.30" fill="none" stroke="#3a3a3a" stroke-width="0.9"/>
<circle cx="412.30" cy="234.30" r="1.05" fill="#333"/>
<circle cx="415.30" cy="234.30" r="1.05" fill="#333"/>
<text x="345.20" y="296.80" font-size="9.4" fill="#231f20" stroke="#231f20" stroke-width="0.16" textLength="97.80" lengthAdjust="spacingAndGlyphs" transform="rotate(-90 345.20 296.80)" >Monocyte TF expression</text>
<text x="356.80" y="271.80" font-size="9.4" fill="#231f20" stroke="#231f20" stroke-width="0.16" textLength="48.30" lengthAdjust="spacingAndGlyphs" transform="rotate(-90 356.80 271.80)" >(RFI, x 10e3)</text>
<text x="424.30" y="316.40" font-size="9.4" fill="#231f20" stroke="#231f20" stroke-width="0.16" textLength="39.40" lengthAdjust="spacingAndGlyphs" >Time (hrs)</text>
<line x1="0.00" y1="0.50" x2="520.00" y2="0.50" stroke="#070707" stroke-width="1" />
<line x1="519.50" y1="0.00" x2="519.50" y2="335.00" stroke="#070707" stroke-width="1" />
<line x1="0.50" y1="0.00" x2="0.50" y2="335.00" stroke="#474747" stroke-width="1" />
<line x1="1.50" y1="1.00" x2="1.50" y2="334.00" stroke="#a8a8a8" stroke-width="1" />
<line x1="0.00" y1="334.50" x2="520.00" y2="334.50" stroke="#444" stroke-width="1" />
<line x1="1.00" y1="333.50" x2="519.00" y2="333.50" stroke="#c8c8c8" stroke-width="1" />
</svg></body></html>
